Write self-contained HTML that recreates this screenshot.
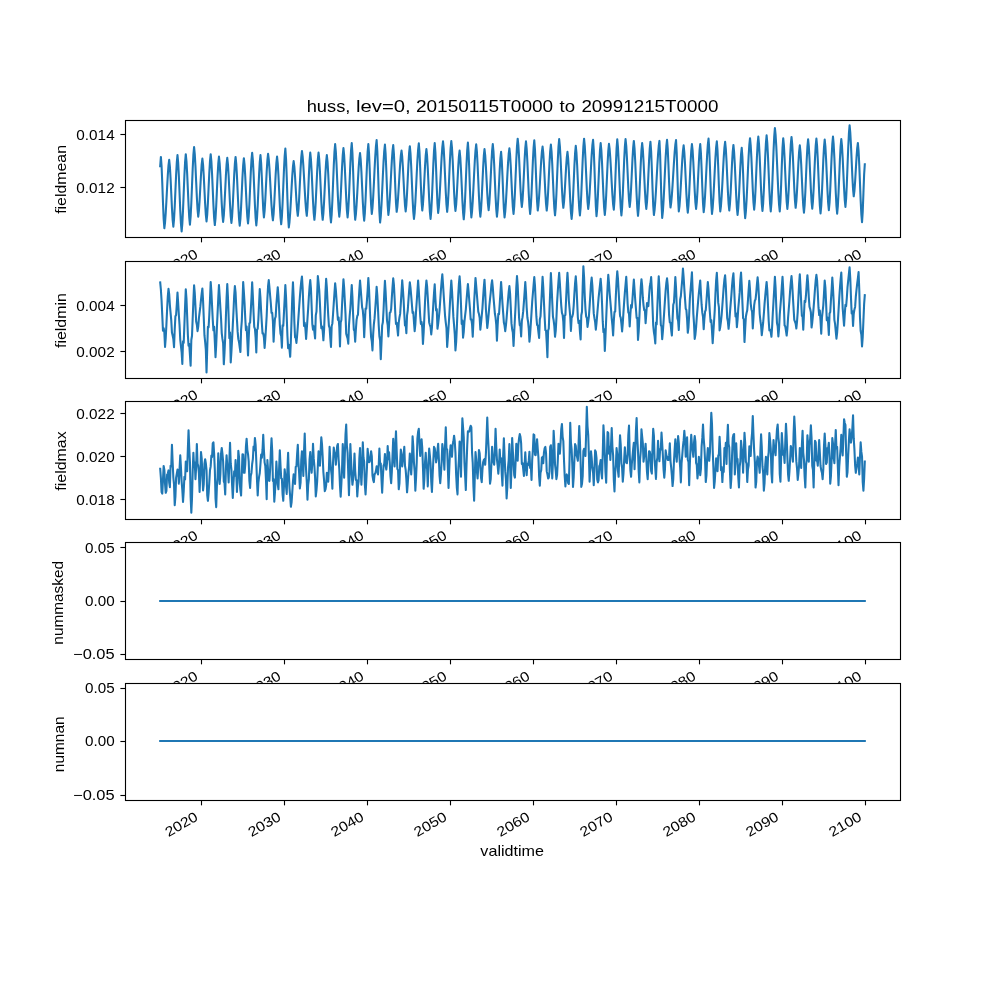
<!DOCTYPE html>
<html><head><meta charset="utf-8"><title>huss</title><style>html,body{margin:0;padding:0;background:#fff}body{width:1000px;height:1000px;overflow:hidden}</style></head><body>
<svg width="1000" height="1000" viewBox="0 0 1000 1000" style="display:block;will-change:transform;font-family:'Liberation Sans',sans-serif">
<rect width="1000" height="1000" fill="#fff"/>
<rect x="125.00" y="120.00" width="775.00" height="117.24" fill="#fff"/>
<path d="M160.20 166.20 L160.89 156.92 L161.58 166.34 L162.27 182.94 L162.97 202.26 L163.66 218.86 L164.35 228.28 L165.04 222.65 L165.73 213.05 L166.42 200.70 L167.11 187.38 L167.81 175.03 L168.50 165.43 L169.19 159.80 L169.88 166.61 L170.57 178.47 L171.26 193.24 L171.95 208.01 L172.65 219.87 L173.34 226.68 L174.03 219.38 L174.72 206.67 L175.41 190.84 L176.10 175.01 L176.80 162.30 L177.49 155.00 L178.18 162.79 L178.87 176.35 L179.56 193.24 L180.25 210.13 L180.94 223.69 L181.64 231.48 L182.33 223.61 L183.02 209.91 L183.71 192.84 L184.40 175.77 L185.09 162.07 L185.78 154.20 L186.48 161.37 L187.17 173.85 L187.86 189.40 L188.55 204.95 L189.24 217.43 L189.93 224.60 L190.62 216.69 L191.32 202.94 L192.01 185.80 L192.70 168.66 L193.39 154.91 L194.08 147.00 L194.77 154.09 L195.46 166.43 L196.16 181.80 L196.85 197.17 L197.54 209.51 L198.23 216.60 L198.92 210.68 L199.61 200.39 L200.30 187.56 L201.00 174.73 L201.69 164.44 L202.38 158.52 L203.07 164.93 L203.76 176.07 L204.45 189.96 L205.15 203.85 L205.84 214.99 L206.53 221.40 L207.22 214.55 L207.91 202.64 L208.60 187.80 L209.29 172.96 L209.99 161.05 L210.68 154.20 L211.37 161.42 L212.06 173.99 L212.75 189.64 L213.44 205.29 L214.13 217.86 L214.83 225.08 L215.52 218.10 L216.21 205.96 L216.90 190.84 L217.59 175.72 L218.28 163.58 L218.97 156.60 L219.67 163.25 L220.36 174.82 L221.05 189.24 L221.74 203.66 L222.43 215.23 L223.12 221.88 L223.81 215.36 L224.51 204.01 L225.20 189.88 L225.89 175.75 L226.58 164.40 L227.27 157.88 L227.96 164.51 L228.65 176.06 L229.35 190.44 L230.04 204.82 L230.73 216.37 L231.42 223.00 L232.11 216.27 L232.80 204.55 L233.49 189.96 L234.19 175.37 L234.88 163.65 L235.57 156.92 L236.26 163.93 L236.95 176.13 L237.64 191.32 L238.34 206.51 L239.03 218.71 L239.72 225.72 L240.41 218.84 L241.10 206.87 L241.79 191.96 L242.48 177.05 L243.18 165.08 L243.87 158.20 L244.56 164.85 L245.25 176.42 L245.94 190.84 L246.63 205.26 L247.32 216.83 L248.02 223.48 L248.71 216.28 L249.40 203.74 L250.09 188.12 L250.78 172.50 L251.47 159.96 L252.16 152.76 L252.86 160.16 L253.55 173.04 L254.24 189.08 L254.93 205.12 L255.62 218.00 L256.31 225.40 L257.00 218.23 L257.70 205.75 L258.39 190.20 L259.08 174.65 L259.77 162.17 L260.46 155.00 L261.15 163.24 L261.84 177.75 L262.54 194.65 L263.23 209.16 L263.92 217.40 L264.61 210.93 L265.30 199.67 L265.99 185.64 L266.69 171.61 L267.38 160.35 L268.07 153.88 L268.76 159.34 L269.45 168.65 L270.14 180.62 L270.83 193.54 L271.53 205.51 L272.22 214.82 L272.91 220.28 L273.60 213.79 L274.29 202.50 L274.98 188.44 L275.67 174.38 L276.37 163.09 L277.06 156.60 L277.75 163.49 L278.44 175.49 L279.13 190.44 L279.82 205.39 L280.51 217.39 L281.21 224.28 L281.90 216.57 L282.59 203.15 L283.28 186.44 L283.97 169.73 L284.66 156.31 L285.35 148.60 L286.05 159.02 L286.74 177.36 L287.43 198.72 L288.12 217.06 L288.81 227.48 L289.50 222.02 L290.19 212.71 L290.89 200.74 L291.58 187.82 L292.27 175.85 L292.96 166.54 L293.65 161.08 L294.34 166.65 L295.04 176.36 L295.73 188.44 L296.42 200.52 L297.11 210.23 L297.80 215.80 L298.49 209.20 L299.18 197.71 L299.88 183.40 L300.57 169.09 L301.26 157.60 L301.95 151.00 L302.64 156.33 L303.33 165.41 L304.02 177.09 L304.72 189.71 L305.41 201.39 L306.10 210.47 L306.79 215.80 L307.48 207.45 L308.17 192.76 L308.86 175.64 L309.56 160.95 L310.25 152.60 L310.94 159.45 L311.63 171.36 L312.32 186.20 L313.01 201.04 L313.70 212.95 L314.40 219.80 L315.09 212.95 L315.78 201.04 L316.47 186.20 L317.16 171.36 L317.85 159.45 L318.54 152.60 L319.24 159.45 L319.93 171.36 L320.62 186.20 L321.31 201.04 L322.00 212.95 L322.69 219.80 L323.39 213.20 L324.08 201.71 L324.77 187.40 L325.46 173.09 L326.15 161.60 L326.84 155.00 L327.53 161.88 L328.23 173.85 L328.92 188.76 L329.61 203.67 L330.30 215.64 L330.99 222.52 L331.68 214.53 L332.37 200.63 L333.07 183.32 L333.76 166.01 L334.45 152.11 L335.14 144.12 L335.83 151.50 L336.52 164.35 L337.21 180.36 L337.91 196.37 L338.60 209.22 L339.29 216.60 L339.98 209.62 L340.67 197.48 L341.36 182.36 L342.05 167.24 L342.75 155.10 L343.44 148.12 L344.13 155.18 L344.82 167.46 L345.51 182.76 L346.20 198.06 L346.89 210.34 L347.59 217.40 L348.28 209.82 L348.97 196.63 L349.66 180.20 L350.35 163.77 L351.04 150.58 L351.74 143.00 L352.43 153.14 L353.12 171.00 L353.81 191.80 L354.50 209.66 L355.19 219.80 L355.88 214.32 L356.58 204.96 L357.27 192.93 L357.96 179.95 L358.65 167.92 L359.34 158.56 L360.03 153.08 L360.72 159.96 L361.42 171.93 L362.11 186.84 L362.80 201.75 L363.49 213.72 L364.18 220.60 L364.87 212.81 L365.56 199.25 L366.26 182.36 L366.95 165.47 L367.64 151.91 L368.33 144.12 L369.02 153.33 L369.71 169.55 L370.40 188.45 L371.10 204.67 L371.79 213.88 L372.48 207.82 L373.17 197.48 L373.86 184.18 L374.55 169.82 L375.24 156.52 L375.94 146.18 L376.63 140.12 L377.32 151.00 L378.01 170.16 L378.70 192.48 L379.39 211.64 L380.08 222.52 L380.78 216.12 L381.47 205.19 L382.16 191.14 L382.85 175.98 L383.54 161.93 L384.23 151.00 L384.93 144.60 L385.62 153.90 L386.31 170.27 L387.00 189.33 L387.69 205.70 L388.38 215.00 L389.07 209.25 L389.77 199.45 L390.46 186.84 L391.15 173.24 L391.84 160.63 L392.53 150.83 L393.22 145.08 L393.91 153.89 L394.61 169.40 L395.30 187.48 L395.99 202.99 L396.68 211.80 L397.37 206.76 L398.06 198.17 L398.75 187.12 L399.45 175.20 L400.14 164.15 L400.83 155.56 L401.52 150.52 L402.21 156.73 L402.90 167.54 L403.59 181.00 L404.29 194.46 L404.98 205.27 L405.67 211.48 L406.36 204.83 L407.05 193.26 L407.74 178.84 L408.43 164.42 L409.13 152.85 L409.82 146.20 L410.51 153.62 L411.20 166.52 L411.89 182.60 L412.58 198.68 L413.28 211.58 L413.97 219.00 L414.66 212.78 L415.35 202.17 L416.04 188.53 L416.73 173.79 L417.42 160.15 L418.12 149.54 L418.81 143.32 L419.50 152.20 L420.19 167.82 L420.88 186.02 L421.57 201.64 L422.26 210.52 L422.96 204.26 L423.65 193.37 L424.34 179.80 L425.03 166.23 L425.72 155.34 L426.41 149.08 L427.10 156.20 L427.80 168.60 L428.49 184.04 L429.18 199.48 L429.87 211.88 L430.56 219.00 L431.25 211.26 L431.94 197.78 L432.64 181.00 L433.33 164.22 L434.02 150.74 L434.71 143.00 L435.40 152.23 L436.09 168.49 L436.78 187.43 L437.48 203.69 L438.17 212.92 L438.86 207.04 L439.55 197.02 L440.24 184.12 L440.93 170.20 L441.63 157.30 L442.32 147.28 L443.01 141.40 L443.70 148.57 L444.39 161.05 L445.08 176.60 L445.77 192.15 L446.47 204.63 L447.16 211.80 L447.85 204.60 L448.54 192.06 L449.23 176.44 L449.92 160.82 L450.61 148.28 L451.31 141.08 L452.00 148.20 L452.69 160.60 L453.38 176.04 L454.07 191.48 L454.76 203.88 L455.45 211.00 L456.15 204.84 L456.84 194.12 L457.53 180.76 L458.22 167.40 L458.91 156.68 L459.60 150.52 L460.29 157.53 L460.99 169.73 L461.68 184.92 L462.37 200.11 L463.06 212.31 L463.75 219.32 L464.44 211.50 L465.13 197.88 L465.83 180.92 L466.52 163.96 L467.21 150.34 L467.90 142.52 L468.59 152.41 L469.28 169.82 L469.98 190.10 L470.67 207.51 L471.36 217.40 L472.05 211.39 L472.74 201.14 L473.43 187.96 L474.12 173.72 L474.82 160.54 L475.51 150.29 L476.20 144.28 L476.89 151.65 L477.58 164.47 L478.27 180.44 L478.96 196.41 L479.66 209.23 L480.35 216.60 L481.04 209.72 L481.73 197.75 L482.42 182.84 L483.11 167.93 L483.80 155.96 L484.50 149.08 L485.19 155.31 L485.88 166.14 L486.57 179.64 L487.26 193.14 L487.95 203.97 L488.64 210.20 L489.34 203.47 L490.03 191.75 L490.72 177.16 L491.41 162.57 L492.10 150.85 L492.79 144.12 L493.48 151.50 L494.18 164.35 L494.87 180.36 L495.56 196.37 L496.25 209.22 L496.94 216.60 L497.63 210.00 L498.33 198.51 L499.02 184.20 L499.71 169.89 L500.40 158.40 L501.09 151.80 L501.78 160.46 L502.47 175.72 L503.17 193.48 L503.86 208.74 L504.55 217.40 L505.24 211.72 L505.93 202.03 L506.62 189.57 L507.31 176.11 L508.01 163.65 L508.70 153.96 L509.39 148.28 L510.08 154.96 L510.77 166.59 L511.46 181.08 L512.15 195.57 L512.85 207.20 L513.54 213.88 L514.23 206.22 L514.92 192.89 L515.61 176.28 L516.30 159.67 L516.99 146.34 L517.69 138.68 L518.38 145.64 L519.07 157.75 L519.76 172.84 L520.45 187.93 L521.14 200.04 L521.83 207.00 L522.53 200.32 L523.22 188.69 L523.91 174.20 L524.60 159.71 L525.29 148.08 L525.98 141.40 L526.67 148.78 L527.37 161.63 L528.06 177.64 L528.75 193.65 L529.44 206.50 L530.13 213.88 L530.82 206.38 L531.52 193.33 L532.21 177.08 L532.90 160.83 L533.59 147.78 L534.28 140.28 L534.97 149.56 L535.66 165.89 L536.36 184.91 L537.05 201.24 L537.74 210.52 L538.43 205.26 L539.12 196.29 L539.81 184.75 L540.50 172.29 L541.20 160.75 L541.89 151.78 L542.58 146.52 L543.27 153.04 L543.96 164.39 L544.65 178.52 L545.34 192.65 L546.04 204.00 L546.73 210.52 L547.42 203.80 L548.11 192.12 L548.80 177.56 L549.49 163.00 L550.18 151.32 L550.88 144.60 L551.57 151.80 L552.26 164.34 L552.95 179.96 L553.64 195.58 L554.33 208.12 L555.02 215.32 L555.72 207.54 L556.41 194.01 L557.10 177.16 L557.79 160.31 L558.48 146.78 L559.17 139.00 L559.87 146.01 L560.56 158.21 L561.25 173.40 L561.94 188.59 L562.63 200.79 L563.32 207.80 L564.01 202.09 L564.71 192.17 L565.40 179.80 L566.09 167.43 L566.78 157.51 L567.47 151.80 L568.16 158.65 L568.85 170.56 L569.55 185.40 L570.24 200.24 L570.93 212.15 L571.62 219.00 L572.31 211.55 L573.00 198.59 L573.69 182.44 L574.39 166.29 L575.08 153.33 L575.77 145.88 L576.46 152.97 L577.15 165.31 L577.84 180.68 L578.53 196.05 L579.23 208.39 L579.92 215.48 L580.61 207.66 L581.30 194.04 L581.99 177.08 L582.68 160.12 L583.37 146.50 L584.07 138.68 L584.76 145.84 L585.45 158.29 L586.14 173.80 L586.83 189.31 L587.52 201.76 L588.22 208.92 L588.91 203.24 L589.60 193.55 L590.29 181.09 L590.98 167.63 L591.67 155.17 L592.36 145.48 L593.06 139.80 L593.75 149.88 L594.44 167.62 L595.13 188.30 L595.82 206.04 L596.51 216.12 L597.20 208.67 L597.90 195.71 L598.59 179.56 L599.28 163.41 L599.97 150.45 L600.66 143.00 L601.35 150.34 L602.04 163.10 L602.74 179.00 L603.43 194.90 L604.12 207.66 L604.81 215.00 L605.50 207.75 L606.19 195.12 L606.88 179.40 L607.58 163.68 L608.27 151.05 L608.96 143.80 L609.65 149.22 L610.34 158.46 L611.03 170.34 L611.72 183.18 L612.42 195.06 L613.11 204.30 L613.80 209.72 L614.49 200.42 L615.18 184.05 L615.87 164.99 L616.57 148.62 L617.26 139.32 L617.95 147.08 L618.64 160.58 L619.33 177.40 L620.02 194.22 L620.71 207.72 L621.41 215.48 L622.10 207.69 L622.79 194.13 L623.48 177.24 L624.17 160.35 L624.86 146.79 L625.55 139.00 L626.25 145.93 L626.94 157.98 L627.63 173.00 L628.32 188.02 L629.01 200.07 L629.70 207.00 L630.39 200.27 L631.09 188.55 L631.78 173.96 L632.47 159.37 L633.16 147.65 L633.85 140.92 L634.54 148.55 L635.23 161.82 L635.93 178.36 L636.62 194.90 L637.31 208.17 L638.00 215.80 L638.69 208.38 L639.38 195.48 L640.07 179.40 L640.77 163.32 L641.46 150.42 L642.15 143.00 L642.84 149.72 L643.53 161.40 L644.22 175.96 L644.92 190.52 L645.61 202.20 L646.30 208.92 L646.99 202.07 L647.68 190.16 L648.37 175.32 L649.06 160.48 L649.76 148.57 L650.45 141.72 L651.14 151.40 L651.83 168.44 L652.52 188.28 L653.21 205.32 L653.90 215.00 L654.60 209.93 L655.29 201.47 L655.98 190.41 L656.67 177.96 L657.36 165.51 L658.05 154.45 L658.74 145.99 L659.44 140.92 L660.13 154.98 L660.82 179.40 L661.51 203.82 L662.20 217.88 L662.89 211.46 L663.58 200.52 L664.28 186.44 L664.97 171.24 L665.66 157.16 L666.35 146.22 L667.04 139.80 L667.73 148.74 L668.42 164.47 L669.12 182.81 L669.81 198.54 L670.50 207.48 L671.19 202.87 L671.88 195.17 L672.57 185.12 L673.26 173.80 L673.96 162.48 L674.65 152.43 L675.34 144.73 L676.03 140.12 L676.72 153.16 L677.41 175.80 L678.11 198.44 L678.80 211.48 L679.49 206.05 L680.18 196.79 L680.87 184.87 L681.56 172.01 L682.25 160.09 L682.95 150.83 L683.64 145.40 L684.33 152.25 L685.02 164.16 L685.71 179.00 L686.40 193.84 L687.09 205.75 L687.79 212.60 L688.48 205.62 L689.17 193.48 L689.86 178.36 L690.55 163.24 L691.24 151.10 L691.93 144.12 L692.63 150.72 L693.32 162.21 L694.01 176.52 L694.70 190.83 L695.39 202.32 L696.08 208.92 L696.77 202.32 L697.47 190.83 L698.16 176.52 L698.85 162.21 L699.54 150.72 L700.23 144.12 L700.92 153.10 L701.61 168.91 L702.31 187.33 L703.00 203.14 L703.69 212.12 L704.38 206.07 L705.07 195.75 L705.76 182.48 L706.46 168.16 L707.15 154.89 L707.84 144.57 L708.53 138.52 L709.22 148.47 L709.91 165.99 L710.60 186.41 L711.30 203.93 L711.99 213.88 L712.68 207.92 L713.37 197.76 L714.06 184.69 L714.75 170.59 L715.44 157.52 L716.14 147.36 L716.83 141.40 L717.52 150.66 L718.21 166.95 L718.90 185.93 L719.59 202.22 L720.28 211.48 L720.98 205.76 L721.67 196.00 L722.36 183.45 L723.05 169.91 L723.74 157.36 L724.43 147.60 L725.12 141.88 L725.82 148.87 L726.51 161.04 L727.20 176.20 L727.89 191.36 L728.58 203.53 L729.27 210.52 L729.96 203.84 L730.66 192.21 L731.35 177.72 L732.04 163.23 L732.73 151.60 L733.42 144.92 L734.11 152.06 L734.81 164.48 L735.50 179.96 L736.19 195.44 L736.88 207.86 L737.57 215.00 L738.26 208.15 L738.95 196.24 L739.65 181.40 L740.34 166.56 L741.03 154.65 L741.72 147.80 L742.41 157.10 L743.10 173.47 L743.79 192.53 L744.49 208.90 L745.18 218.20 L745.87 211.63 L746.56 200.41 L747.25 185.99 L747.94 170.41 L748.63 155.99 L749.33 144.77 L750.02 138.20 L750.71 145.49 L751.40 158.17 L752.09 173.96 L752.78 189.75 L753.47 202.43 L754.17 209.72 L754.86 202.27 L755.55 189.31 L756.24 173.16 L756.93 157.01 L757.62 144.05 L758.31 136.60 L759.01 144.18 L759.70 157.37 L760.39 173.80 L761.08 190.23 L761.77 203.42 L762.46 211.00 L763.16 203.29 L763.85 189.87 L764.54 173.16 L765.23 156.45 L765.92 143.03 L766.61 135.32 L767.30 143.08 L768.00 156.58 L768.69 173.40 L769.38 190.22 L770.07 203.72 L770.76 211.48 L771.45 202.99 L772.14 188.21 L772.84 169.80 L773.53 151.39 L774.22 136.61 L774.91 128.12 L775.60 134.97 L776.29 146.66 L776.98 161.69 L777.68 177.91 L778.37 192.94 L779.06 204.63 L779.75 211.48 L780.44 201.80 L781.13 184.76 L781.82 164.92 L782.52 147.88 L783.21 138.20 L783.90 145.40 L784.59 157.94 L785.28 173.56 L785.97 189.18 L786.66 201.72 L787.36 208.92 L788.05 201.58 L788.74 188.82 L789.43 172.92 L790.12 157.02 L790.81 144.26 L791.51 136.92 L792.20 144.14 L792.89 156.71 L793.58 172.36 L794.27 188.01 L794.96 200.58 L795.65 207.80 L796.35 201.44 L797.04 190.38 L797.73 176.60 L798.42 162.82 L799.11 151.76 L799.80 145.40 L800.49 152.25 L801.19 164.16 L801.88 179.00 L802.57 193.84 L803.26 205.75 L803.95 212.60 L804.64 205.13 L805.33 192.14 L806.03 175.96 L806.72 159.78 L807.41 146.79 L808.10 139.32 L808.79 146.38 L809.48 158.66 L810.17 173.96 L810.87 189.26 L811.56 201.54 L812.25 208.60 L812.94 201.46 L813.63 189.04 L814.32 173.56 L815.01 158.08 L815.71 145.66 L816.40 138.52 L817.09 146.15 L817.78 159.42 L818.47 175.96 L819.16 192.50 L819.85 205.77 L820.55 213.40 L821.24 205.87 L821.93 192.76 L822.62 176.44 L823.31 160.12 L824.00 147.01 L824.70 139.48 L825.39 146.68 L826.08 159.22 L826.77 174.84 L827.46 190.46 L828.15 203.00 L828.84 210.20 L829.54 202.70 L830.23 189.65 L830.92 173.40 L831.61 157.15 L832.30 144.10 L832.99 136.60 L833.68 144.46 L834.38 158.13 L835.07 175.16 L835.76 192.19 L836.45 205.86 L837.14 213.72 L837.83 206.11 L838.52 192.86 L839.22 176.36 L839.91 159.86 L840.60 146.61 L841.29 139.00 L841.98 145.93 L842.67 157.98 L843.36 173.00 L844.06 188.02 L844.75 200.07 L845.44 207.00 L846.13 198.69 L846.82 184.22 L847.51 166.20 L848.20 148.18 L848.90 133.71 L849.59 125.40 L850.28 132.62 L850.97 145.19 L851.66 160.84 L852.35 176.49 L853.05 189.06 L853.74 196.28 L854.43 190.85 L855.12 181.41 L855.81 169.64 L856.50 157.87 L857.19 148.43 L857.89 143.00 L858.58 151.07 L859.27 165.11 L859.96 182.60 L860.65 200.09 L861.34 214.13 L862.03 222.20 L862.73 211.62 L863.42 193.24 L864.11 174.86 L864.80 164.28" fill="none" stroke="#1f77b4" stroke-width="2.08" stroke-linejoin="round" stroke-linecap="square"/>
<rect x="125.5" y="120.5" width="775.0" height="117.0" fill="none" stroke="#000" stroke-width="1.11"/>
<path d="M201.5 237.5 v4.86" stroke="#000" stroke-width="1.11"/>
<path d="M284.5 237.5 v4.86" stroke="#000" stroke-width="1.11"/>
<path d="M367.5 237.5 v4.86" stroke="#000" stroke-width="1.11"/>
<path d="M450.5 237.5 v4.86" stroke="#000" stroke-width="1.11"/>
<path d="M533.5 237.5 v4.86" stroke="#000" stroke-width="1.11"/>
<path d="M616.5 237.5 v4.86" stroke="#000" stroke-width="1.11"/>
<path d="M699.5 237.5 v4.86" stroke="#000" stroke-width="1.11"/>
<path d="M782.5 237.5 v4.86" stroke="#000" stroke-width="1.11"/>
<path d="M865.5 237.5 v4.86" stroke="#000" stroke-width="1.11"/>
<path d="M125.5 134.5 h-5.1" stroke="#000" stroke-width="1.11"/>
<text x="114.65" y="139.60" text-anchor="end" font-size="13.9" textLength="38.3" lengthAdjust="spacingAndGlyphs">0.014</text>
<path d="M125.5 187.5 h-5.1" stroke="#000" stroke-width="1.11"/>
<text x="114.65" y="192.60" text-anchor="end" font-size="13.9" textLength="38.3" lengthAdjust="spacingAndGlyphs">0.012</text>
<text transform="translate(65.90 179.42) rotate(-90)" text-anchor="middle" font-size="13.9" textLength="68.8" lengthAdjust="spacingAndGlyphs">fieldmean</text>
<text transform="translate(198.99 256.74) rotate(-30)" text-anchor="end" font-size="13.9" textLength="35.3" lengthAdjust="spacingAndGlyphs">2020</text><text transform="translate(281.95 256.74) rotate(-30)" text-anchor="end" font-size="13.9" textLength="35.3" lengthAdjust="spacingAndGlyphs">2030</text><text transform="translate(364.92 256.74) rotate(-30)" text-anchor="end" font-size="13.9" textLength="35.3" lengthAdjust="spacingAndGlyphs">2040</text><text transform="translate(447.89 256.74) rotate(-30)" text-anchor="end" font-size="13.9" textLength="35.3" lengthAdjust="spacingAndGlyphs">2050</text><text transform="translate(530.86 256.74) rotate(-30)" text-anchor="end" font-size="13.9" textLength="35.3" lengthAdjust="spacingAndGlyphs">2060</text><text transform="translate(613.83 256.74) rotate(-30)" text-anchor="end" font-size="13.9" textLength="35.3" lengthAdjust="spacingAndGlyphs">2070</text><text transform="translate(696.79 256.74) rotate(-30)" text-anchor="end" font-size="13.9" textLength="35.3" lengthAdjust="spacingAndGlyphs">2080</text><text transform="translate(779.76 256.74) rotate(-30)" text-anchor="end" font-size="13.9" textLength="35.3" lengthAdjust="spacingAndGlyphs">2090</text><text transform="translate(862.73 256.74) rotate(-30)" text-anchor="end" font-size="13.9" textLength="35.3" lengthAdjust="spacingAndGlyphs">2100</text>
<rect x="125.00" y="260.69" width="775.00" height="117.24" fill="#fff"/>
<path d="M160.20 282.40 L160.89 289.75 L161.58 300.90 L162.27 315.41 L162.97 330.60 L163.66 328.27 L164.35 332.33 L165.04 346.88 L165.73 337.90 L166.42 324.45 L167.11 309.49 L167.81 296.29 L168.50 288.80 L169.19 294.21 L169.88 305.09 L170.57 312.94 L171.26 320.42 L171.95 332.61 L172.65 335.57 L173.34 339.15 L174.03 347.20 L174.72 329.52 L175.41 316.27 L176.10 314.91 L176.80 304.40 L177.49 292.48 L178.18 303.23 L178.87 315.26 L179.56 325.43 L180.25 339.56 L180.94 346.06 L181.64 352.26 L182.33 364.00 L183.02 341.21 L183.71 342.85 L184.40 324.65 L185.09 306.17 L185.78 289.28 L186.48 298.93 L187.17 316.24 L187.86 334.83 L188.55 345.71 L189.24 344.07 L189.93 354.89 L190.62 365.60 L191.32 340.02 L192.01 335.76 L192.70 317.96 L193.39 300.88 L194.08 285.28 L194.77 293.20 L195.46 306.67 L196.16 321.53 L196.85 324.76 L197.54 331.20 L198.23 326.69 L198.92 318.16 L199.61 312.41 L200.30 306.90 L201.00 299.88 L201.69 293.59 L202.38 288.48 L203.07 300.89 L203.76 317.79 L204.45 335.22 L205.15 341.90 L205.84 349.88 L206.53 372.48 L207.22 349.05 L207.91 326.84 L208.60 327.25 L209.29 315.42 L209.99 299.82 L210.68 281.92 L211.37 291.52 L212.06 305.76 L212.75 319.89 L213.44 330.32 L214.13 326.82 L214.83 341.72 L215.52 357.12 L216.21 345.00 L216.90 327.99 L217.59 312.80 L218.28 298.24 L218.97 285.12 L219.67 295.98 L220.36 307.85 L221.05 318.54 L221.74 333.11 L222.43 338.93 L223.12 343.18 L223.81 364.32 L224.51 352.79 L225.20 337.51 L225.89 317.25 L226.58 298.05 L227.27 284.00 L227.96 297.57 L228.65 317.53 L229.35 338.26 L230.04 332.65 L230.73 362.40 L231.42 351.56 L232.11 338.79 L232.80 325.12 L233.49 311.20 L234.19 295.53 L234.88 286.08 L235.57 292.56 L236.26 307.52 L236.95 319.76 L237.64 331.68 L238.34 339.14 L239.03 342.22 L239.72 347.34 L240.41 352.00 L241.10 329.88 L241.79 321.15 L242.48 302.83 L243.18 282.08 L243.87 291.96 L244.56 303.41 L245.25 318.22 L245.94 330.11 L246.63 326.64 L247.32 340.42 L248.02 355.52 L248.71 338.15 L249.40 323.32 L250.09 322.79 L250.78 310.90 L251.47 297.71 L252.16 282.40 L252.86 296.27 L253.55 312.45 L254.24 326.96 L254.93 328.77 L255.62 337.72 L256.31 352.48 L257.00 329.62 L257.70 328.88 L258.39 318.97 L259.08 304.11 L259.77 289.12 L260.46 298.18 L261.15 311.82 L261.84 323.10 L262.54 333.44 L263.23 333.36 L263.92 337.54 L264.61 348.00 L265.30 338.81 L265.99 327.84 L266.69 315.69 L267.38 299.06 L268.07 286.23 L268.76 280.00 L269.45 287.52 L270.14 295.77 L270.83 303.52 L271.53 312.81 L272.22 312.81 L272.91 321.50 L273.60 341.60 L274.29 328.23 L274.98 318.52 L275.67 316.70 L276.37 304.33 L277.06 295.81 L277.75 287.20 L278.44 296.07 L279.13 309.32 L279.82 324.87 L280.51 333.78 L281.21 336.04 L281.90 347.68 L282.59 325.29 L283.28 325.84 L283.97 312.58 L284.66 299.15 L285.35 285.12 L286.05 296.96 L286.74 316.87 L287.43 336.07 L288.12 348.22 L288.81 344.67 L289.50 349.62 L290.19 356.80 L290.89 340.20 L291.58 318.75 L292.27 297.12 L292.96 282.40 L293.65 297.59 L294.34 321.61 L295.04 337.24 L295.73 337.87 L296.42 342.88 L297.11 335.55 L297.80 326.65 L298.49 316.75 L299.18 306.72 L299.88 297.14 L300.57 288.44 L301.26 281.45 L301.95 276.48 L302.64 287.85 L303.33 306.83 L304.02 325.99 L304.72 322.87 L305.41 328.95 L306.10 338.88 L306.79 328.93 L307.48 318.72 L308.17 308.63 L308.86 296.75 L309.56 286.81 L310.25 280.00 L310.94 288.65 L311.63 306.12 L312.32 324.24 L313.01 329.59 L313.70 326.23 L314.40 332.02 L315.09 338.40 L315.78 315.36 L316.47 311.59 L317.16 294.25 L317.85 276.00 L318.54 282.34 L319.24 290.24 L319.93 303.72 L320.62 318.47 L321.31 328.15 L322.00 326.53 L322.69 331.04 L323.39 340.32 L324.08 329.85 L324.77 312.50 L325.46 292.24 L326.15 278.72 L326.84 287.48 L327.53 302.09 L328.23 315.41 L328.92 325.88 L329.61 327.91 L330.30 338.16 L330.99 346.88 L331.68 326.07 L332.37 323.42 L333.07 313.73 L333.76 303.30 L334.45 293.36 L335.14 283.20 L335.83 289.74 L336.52 299.79 L337.21 310.71 L337.91 319.83 L338.60 317.44 L339.29 326.82 L339.98 346.40 L340.67 322.57 L341.36 319.98 L342.05 305.05 L342.75 291.56 L343.44 279.20 L344.13 287.51 L344.82 301.04 L345.51 314.14 L346.20 333.61 L346.89 336.14 L347.59 338.44 L348.28 343.68 L348.97 325.59 L349.66 315.95 L350.35 308.34 L351.04 296.70 L351.74 285.12 L352.43 297.18 L353.12 314.99 L353.81 329.75 L354.50 330.92 L355.19 341.60 L355.88 329.35 L356.58 319.94 L357.27 316.07 L357.96 314.85 L358.65 301.98 L359.34 290.19 L360.03 280.48 L360.72 289.17 L361.42 298.48 L362.11 307.30 L362.80 310.31 L363.49 318.41 L364.18 337.12 L364.87 322.10 L365.56 308.52 L366.26 308.69 L366.95 300.41 L367.64 290.61 L368.33 277.92 L369.02 288.88 L369.71 306.34 L370.40 324.39 L371.10 337.16 L371.79 341.25 L372.48 350.40 L373.17 334.14 L373.86 324.26 L374.55 318.42 L375.24 308.87 L375.94 298.68 L376.63 286.72 L377.32 295.38 L378.01 309.29 L378.70 324.97 L379.39 336.21 L380.08 340.24 L380.78 359.20 L381.47 343.00 L382.16 325.60 L382.85 322.32 L383.54 310.23 L384.23 294.41 L384.93 280.80 L385.62 291.83 L386.31 306.01 L387.00 320.68 L387.69 325.02 L388.38 336.48 L389.07 325.17 L389.77 312.79 L390.46 312.25 L391.15 308.97 L391.84 297.39 L392.53 286.95 L393.22 278.40 L393.91 284.88 L394.61 298.53 L395.30 313.75 L395.99 324.03 L396.68 322.83 L397.37 328.88 L398.06 335.52 L398.75 322.72 L399.45 317.44 L400.14 313.92 L400.83 303.40 L401.52 291.88 L402.21 280.32 L402.90 289.17 L403.59 299.88 L404.29 313.96 L404.98 325.41 L405.67 323.84 L406.36 333.28 L407.05 315.30 L407.74 310.50 L408.43 300.36 L409.13 290.85 L409.82 282.40 L410.51 287.77 L411.20 295.95 L411.89 304.43 L412.58 312.87 L413.28 312.05 L413.97 322.11 L414.66 331.20 L415.35 324.36 L416.04 311.52 L416.73 301.49 L417.42 291.07 L418.12 280.48 L418.81 290.75 L419.50 303.55 L420.19 315.54 L420.88 323.89 L421.57 321.91 L422.26 327.60 L422.96 344.00 L423.65 332.33 L424.34 317.38 L425.03 301.76 L425.72 288.75 L426.41 280.48 L427.10 286.31 L427.80 297.68 L428.49 310.32 L429.18 322.43 L429.87 324.99 L430.56 327.33 L431.25 334.40 L431.94 327.42 L432.64 315.26 L433.33 303.89 L434.02 293.14 L434.71 284.32 L435.40 298.47 L436.09 310.35 L436.78 309.22 L437.48 328.80 L438.17 323.76 L438.86 317.61 L439.55 310.35 L440.24 300.22 L440.93 290.03 L441.63 281.30 L442.32 274.40 L443.01 284.05 L443.70 295.32 L444.39 305.75 L445.08 316.22 L445.77 322.63 L446.47 328.22 L447.16 346.88 L447.85 337.62 L448.54 327.54 L449.23 316.69 L449.92 303.74 L450.61 291.26 L451.31 280.48 L452.00 290.69 L452.69 303.67 L453.38 316.91 L454.07 325.27 L454.76 334.21 L455.45 350.40 L456.15 342.13 L456.84 327.72 L457.53 310.06 L458.22 295.50 L458.91 283.85 L459.60 276.32 L460.29 286.66 L460.99 304.62 L461.68 323.85 L462.37 320.61 L463.06 337.60 L463.75 331.84 L464.44 321.61 L465.13 315.35 L465.83 309.30 L466.52 300.38 L467.21 291.74 L467.90 284.00 L468.59 291.51 L469.28 300.54 L469.98 308.73 L470.67 319.38 L471.36 319.30 L472.05 324.37 L472.74 336.80 L473.43 321.50 L474.12 302.50 L474.82 290.15 L475.51 277.92 L476.20 285.87 L476.89 294.65 L477.58 303.29 L478.27 311.64 L478.96 314.01 L479.66 317.90 L480.35 329.60 L481.04 322.94 L481.73 315.95 L482.42 308.36 L483.11 297.68 L483.80 287.64 L484.50 279.68 L485.19 291.69 L485.88 308.78 L486.57 318.05 L487.26 328.00 L487.95 322.07 L488.64 314.41 L489.34 305.80 L490.03 299.15 L490.72 292.76 L491.41 285.02 L492.10 280.32 L492.79 287.23 L493.48 297.02 L494.18 305.19 L494.87 313.52 L495.56 317.68 L496.25 324.55 L496.94 340.80 L497.63 325.80 L498.33 313.75 L499.02 314.39 L499.71 304.03 L500.40 293.30 L501.09 281.92 L501.78 292.17 L502.47 303.36 L503.17 312.95 L503.86 322.47 L504.55 325.51 L505.24 331.20 L505.93 325.49 L506.62 317.81 L507.31 308.96 L508.01 299.86 L508.70 291.92 L509.39 286.08 L510.08 293.55 L510.77 307.51 L511.46 323.15 L512.15 329.25 L512.85 332.60 L513.54 345.92 L514.23 331.94 L514.92 318.54 L515.61 305.29 L516.30 286.98 L516.99 276.00 L517.69 285.41 L518.38 301.23 L519.07 317.62 L519.76 325.15 L520.45 326.12 L521.14 336.48 L521.83 320.84 L522.53 317.16 L523.22 311.14 L523.91 302.13 L524.60 292.21 L525.29 282.08 L525.98 292.57 L526.67 307.37 L527.37 317.54 L528.06 321.77 L528.75 328.71 L529.44 341.60 L530.13 334.38 L530.82 323.72 L531.52 312.68 L532.21 301.55 L532.90 293.22 L533.59 285.11 L534.28 277.12 L534.97 285.65 L535.66 301.00 L536.36 316.45 L537.05 324.88 L537.74 325.55 L538.43 332.18 L539.12 337.92 L539.81 319.49 L540.50 316.37 L541.20 303.81 L541.89 290.83 L542.58 276.80 L543.27 287.24 L543.96 302.21 L544.65 317.19 L545.34 330.17 L546.04 330.68 L546.73 342.95 L547.42 357.12 L548.11 330.65 L548.80 328.54 L549.49 309.91 L550.18 291.36 L550.88 273.12 L551.57 286.03 L552.26 302.07 L552.95 316.76 L553.64 320.31 L554.33 326.13 L555.02 336.80 L555.72 330.90 L556.41 318.47 L557.10 302.40 L557.79 291.22 L558.48 281.21 L559.17 272.80 L559.87 282.95 L560.56 294.72 L561.25 305.60 L561.94 312.80 L562.63 314.80 L563.32 321.87 L564.01 338.08 L564.71 315.64 L565.40 314.92 L566.09 299.24 L566.78 284.66 L567.47 272.80 L568.16 284.34 L568.85 300.73 L569.55 308.53 L570.24 316.63 L570.93 330.88 L571.62 317.91 L572.31 316.45 L573.00 313.73 L573.69 305.76 L574.39 293.56 L575.08 283.34 L575.77 276.32 L576.46 286.03 L577.15 301.88 L577.84 317.29 L578.53 323.04 L579.23 320.67 L579.92 331.55 L580.61 339.52 L581.30 315.30 L581.99 311.74 L582.68 287.40 L583.37 266.40 L584.07 277.16 L584.76 295.93 L585.45 309.05 L586.14 316.47 L586.83 317.95 L587.52 326.88 L588.22 321.82 L588.91 316.34 L589.60 306.35 L590.29 295.26 L590.98 283.83 L591.67 277.60 L592.36 285.57 L593.06 299.53 L593.75 313.39 L594.44 318.14 L595.13 322.08 L595.82 329.60 L596.51 323.22 L597.20 314.67 L597.90 306.24 L598.59 297.95 L599.28 291.43 L599.97 285.05 L600.66 278.72 L601.35 287.83 L602.04 303.72 L602.74 321.44 L603.43 332.07 L604.12 329.17 L604.81 350.88 L605.50 336.02 L606.19 319.04 L606.88 302.02 L607.58 286.77 L608.27 274.88 L608.96 282.90 L609.65 293.06 L610.34 301.27 L611.03 309.45 L611.72 318.38 L612.42 325.37 L613.11 335.52 L613.80 320.94 L614.49 311.95 L615.18 311.67 L615.87 295.37 L616.57 281.14 L617.26 271.20 L617.95 278.52 L618.64 291.21 L619.33 303.83 L620.02 315.77 L620.71 317.54 L621.41 323.55 L622.10 331.52 L622.79 323.08 L623.48 311.90 L624.17 301.92 L624.86 292.54 L625.55 284.57 L626.25 276.80 L626.94 289.40 L627.63 304.03 L628.32 312.34 L629.01 313.72 L629.70 326.40 L630.39 313.83 L631.09 305.07 L631.78 307.65 L632.47 299.33 L633.16 288.72 L633.85 279.52 L634.54 289.92 L635.23 299.98 L635.93 308.76 L636.62 317.97 L637.31 317.71 L638.00 340.00 L638.69 331.49 L639.38 317.55 L640.07 301.48 L640.77 287.34 L641.46 279.20 L642.15 285.94 L642.84 297.96 L643.53 305.29 L644.22 310.14 L644.92 310.15 L645.61 323.20 L646.30 313.77 L646.99 303.11 L647.68 306.42 L648.37 306.08 L649.06 295.81 L649.76 286.75 L650.45 283.33 L651.14 277.12 L651.83 289.77 L652.52 307.23 L653.21 325.24 L653.90 332.17 L654.60 336.41 L655.29 343.52 L655.98 322.50 L656.67 324.56 L657.36 306.70 L658.05 289.68 L658.74 276.32 L659.44 288.04 L660.13 307.62 L660.82 324.78 L661.51 326.66 L662.20 339.20 L662.89 331.37 L663.58 321.15 L664.28 310.56 L664.97 300.19 L665.66 290.32 L666.35 282.86 L667.04 278.40 L667.73 285.27 L668.42 300.02 L669.12 315.44 L669.81 322.43 L670.50 322.70 L671.19 330.01 L671.88 335.52 L672.57 319.41 L673.26 304.77 L673.96 302.51 L674.65 290.31 L675.34 277.12 L676.03 287.76 L676.72 305.48 L677.41 318.26 L678.11 320.73 L678.80 330.08 L679.49 314.08 L680.18 299.57 L680.87 296.04 L681.56 287.54 L682.25 279.48 L682.95 268.48 L683.64 277.39 L684.33 288.84 L685.02 298.84 L685.71 308.74 L686.40 310.09 L687.09 319.32 L687.79 332.80 L688.48 327.30 L689.17 314.83 L689.86 298.62 L690.55 290.14 L691.24 281.58 L691.93 272.32 L692.63 290.38 L693.32 313.35 L694.01 323.58 L694.70 338.88 L695.39 334.89 L696.08 327.50 L696.77 317.54 L697.47 309.18 L698.16 300.89 L698.85 293.35 L699.54 286.47 L700.23 280.48 L700.92 293.28 L701.61 304.70 L702.31 312.65 L703.00 316.87 L703.69 329.28 L704.38 318.77 L705.07 311.74 L705.76 310.00 L706.46 300.73 L707.15 290.92 L707.84 282.08 L708.53 289.70 L709.22 301.85 L709.91 312.94 L710.60 322.00 L711.30 320.15 L711.99 330.88 L712.68 343.20 L713.37 332.13 L714.06 321.26 L714.75 310.41 L715.44 293.90 L716.14 280.50 L716.83 272.80 L717.52 285.71 L718.21 302.66 L718.90 307.16 L719.59 330.40 L720.28 326.73 L720.98 321.40 L721.67 314.59 L722.36 305.51 L723.05 296.01 L723.74 286.55 L724.43 279.35 L725.12 275.20 L725.82 285.93 L726.51 302.46 L727.20 318.02 L727.89 321.54 L728.58 328.80 L729.27 322.11 L729.96 312.42 L730.66 303.96 L731.35 295.66 L732.04 285.84 L732.73 278.11 L733.42 273.28 L734.11 287.22 L734.81 303.53 L735.50 316.40 L736.19 313.63 L736.88 327.20 L737.57 319.74 L738.26 308.57 L738.95 300.89 L739.65 292.93 L740.34 280.11 L741.03 272.48 L741.72 285.43 L742.41 302.48 L743.10 318.22 L743.79 319.26 L744.49 342.08 L745.18 329.21 L745.87 316.81 L746.56 313.00 L747.25 310.24 L747.94 300.52 L748.63 290.01 L749.33 280.80 L750.02 289.84 L750.71 303.58 L751.40 309.17 L752.09 311.73 L752.78 328.48 L753.47 317.11 L754.17 305.25 L754.86 300.56 L755.55 299.46 L756.24 292.94 L756.93 284.29 L757.62 277.28 L758.31 284.95 L759.01 298.20 L759.70 314.01 L760.39 320.76 L761.08 325.68 L761.77 335.20 L762.46 329.18 L763.16 322.72 L763.85 313.77 L764.54 304.19 L765.23 296.16 L765.92 288.63 L766.61 281.92 L767.30 290.41 L768.00 305.66 L768.69 320.78 L769.38 330.33 L770.07 329.62 L770.76 332.31 L771.45 336.80 L772.14 326.47 L772.84 312.45 L773.53 300.97 L774.22 289.14 L774.91 276.80 L775.60 287.87 L776.29 307.23 L776.98 323.12 L777.68 326.33 L778.37 336.48 L779.06 328.13 L779.75 314.63 L780.44 306.04 L781.13 297.61 L781.82 286.19 L782.52 276.80 L783.21 289.00 L783.90 306.76 L784.59 325.42 L785.28 326.40 L785.97 330.88 L786.66 335.52 L787.36 329.13 L788.05 318.01 L788.74 309.32 L789.43 300.79 L790.12 290.80 L790.81 282.30 L791.51 276.00 L792.20 284.50 L792.89 296.81 L793.58 308.53 L794.27 319.89 L794.96 321.67 L795.65 323.67 L796.35 328.48 L797.04 321.33 L797.73 311.76 L798.42 297.59 L799.11 284.03 L799.80 274.40 L800.49 287.47 L801.19 302.00 L801.88 315.83 L802.57 316.61 L803.26 329.60 L803.95 314.69 L804.64 300.79 L805.33 302.02 L806.03 294.39 L806.72 284.06 L807.41 275.20 L808.10 283.26 L808.79 296.93 L809.48 306.61 L810.17 309.02 L810.87 312.33 L811.56 327.52 L812.25 322.52 L812.94 315.52 L813.63 307.29 L814.32 298.36 L815.01 288.53 L815.71 280.39 L816.40 274.88 L817.09 280.36 L817.78 292.74 L818.47 307.43 L819.16 315.04 L819.85 310.55 L820.55 321.26 L821.24 333.60 L821.93 318.00 L822.62 311.62 L823.31 305.07 L824.00 293.25 L824.70 280.48 L825.39 287.66 L826.08 302.92 L826.77 320.09 L827.46 317.45 L828.15 323.61 L828.84 334.88 L829.54 313.44 L830.23 312.11 L830.92 300.47 L831.61 290.13 L832.30 277.60 L832.99 288.02 L833.68 301.58 L834.38 319.82 L835.07 323.86 L835.76 331.46 L836.45 338.72 L837.14 332.75 L837.83 322.33 L838.52 310.78 L839.22 298.67 L839.91 288.28 L840.60 279.38 L841.29 272.48 L841.98 288.68 L842.67 308.06 L843.36 316.96 L844.06 325.60 L844.75 314.36 L845.44 304.85 L846.13 306.06 L846.82 297.99 L847.51 287.43 L848.20 280.55 L848.90 273.90 L849.59 267.20 L850.28 278.58 L850.97 297.40 L851.66 313.52 L852.35 311.15 L853.05 325.92 L853.74 313.73 L854.43 309.50 L855.12 306.93 L855.81 296.62 L856.50 289.84 L857.19 283.64 L857.89 278.09 L858.58 272.00 L859.27 289.46 L859.96 316.77 L860.65 330.70 L861.34 334.48 L862.03 346.40 L862.73 336.96 L863.42 320.63 L864.11 304.40 L864.80 295.20" fill="none" stroke="#1f77b4" stroke-width="2.08" stroke-linejoin="round" stroke-linecap="square"/>
<rect x="125.5" y="261.5" width="775.0" height="117.0" fill="none" stroke="#000" stroke-width="1.11"/>
<path d="M201.5 378.5 v4.86" stroke="#000" stroke-width="1.11"/>
<path d="M284.5 378.5 v4.86" stroke="#000" stroke-width="1.11"/>
<path d="M367.5 378.5 v4.86" stroke="#000" stroke-width="1.11"/>
<path d="M450.5 378.5 v4.86" stroke="#000" stroke-width="1.11"/>
<path d="M533.5 378.5 v4.86" stroke="#000" stroke-width="1.11"/>
<path d="M616.5 378.5 v4.86" stroke="#000" stroke-width="1.11"/>
<path d="M699.5 378.5 v4.86" stroke="#000" stroke-width="1.11"/>
<path d="M782.5 378.5 v4.86" stroke="#000" stroke-width="1.11"/>
<path d="M865.5 378.5 v4.86" stroke="#000" stroke-width="1.11"/>
<path d="M125.5 305.5 h-5.1" stroke="#000" stroke-width="1.11"/>
<text x="114.65" y="310.60" text-anchor="end" font-size="13.9" textLength="38.3" lengthAdjust="spacingAndGlyphs">0.004</text>
<path d="M125.5 351.5 h-5.1" stroke="#000" stroke-width="1.11"/>
<text x="114.65" y="356.60" text-anchor="end" font-size="13.9" textLength="38.3" lengthAdjust="spacingAndGlyphs">0.002</text>
<text transform="translate(65.80 320.61) rotate(-90)" text-anchor="middle" font-size="13.9" textLength="54.9" lengthAdjust="spacingAndGlyphs">fieldmin</text>
<text transform="translate(198.99 397.43) rotate(-30)" text-anchor="end" font-size="13.9" textLength="35.3" lengthAdjust="spacingAndGlyphs">2020</text><text transform="translate(281.95 397.43) rotate(-30)" text-anchor="end" font-size="13.9" textLength="35.3" lengthAdjust="spacingAndGlyphs">2030</text><text transform="translate(364.92 397.43) rotate(-30)" text-anchor="end" font-size="13.9" textLength="35.3" lengthAdjust="spacingAndGlyphs">2040</text><text transform="translate(447.89 397.43) rotate(-30)" text-anchor="end" font-size="13.9" textLength="35.3" lengthAdjust="spacingAndGlyphs">2050</text><text transform="translate(530.86 397.43) rotate(-30)" text-anchor="end" font-size="13.9" textLength="35.3" lengthAdjust="spacingAndGlyphs">2060</text><text transform="translate(613.83 397.43) rotate(-30)" text-anchor="end" font-size="13.9" textLength="35.3" lengthAdjust="spacingAndGlyphs">2070</text><text transform="translate(696.79 397.43) rotate(-30)" text-anchor="end" font-size="13.9" textLength="35.3" lengthAdjust="spacingAndGlyphs">2080</text><text transform="translate(779.76 397.43) rotate(-30)" text-anchor="end" font-size="13.9" textLength="35.3" lengthAdjust="spacingAndGlyphs">2090</text><text transform="translate(862.73 397.43) rotate(-30)" text-anchor="end" font-size="13.9" textLength="35.3" lengthAdjust="spacingAndGlyphs">2100</text>
<rect x="125.00" y="401.38" width="775.00" height="117.24" fill="#fff"/>
<path d="M160.20 468.80 L160.89 478.01 L161.58 492.04 L162.27 493.60 L162.97 479.86 L163.66 465.92 L164.35 469.89 L165.04 484.03 L165.73 492.80 L166.42 490.81 L167.11 474.52 L167.81 473.58 L168.50 470.40 L169.19 482.57 L169.88 487.20 L170.57 465.82 L171.26 466.56 L171.95 444.80 L172.65 462.27 L173.34 477.50 L174.03 484.71 L174.72 505.12 L175.41 496.68 L176.10 477.67 L176.80 473.66 L177.49 469.60 L178.18 470.92 L178.87 483.68 L179.56 468.72 L180.25 455.20 L180.94 467.18 L181.64 481.65 L182.33 490.24 L183.02 501.92 L183.71 491.18 L184.40 476.88 L185.09 479.42 L185.78 461.60 L186.48 469.72 L187.17 471.20 L187.86 448.55 L188.55 430.40 L189.24 447.72 L189.93 462.14 L190.62 496.34 L191.32 512.80 L192.01 498.28 L192.70 471.01 L193.39 452.80 L194.08 467.09 L194.77 462.50 L195.46 479.20 L196.16 466.59 L196.85 444.00 L197.54 463.47 L198.23 465.74 L198.92 473.36 L199.61 492.00 L200.30 475.39 L201.00 452.00 L201.69 458.27 L202.38 474.95 L203.07 490.40 L203.76 484.08 L204.45 463.56 L205.15 459.20 L205.84 463.39 L206.53 470.32 L207.22 495.02 L207.91 500.80 L208.60 493.12 L209.29 482.44 L209.99 470.19 L210.68 466.40 L211.37 455.60 L212.06 457.04 L212.75 443.41 L213.44 442.40 L214.13 454.13 L214.83 469.74 L215.52 498.33 L216.21 507.20 L216.90 486.13 L217.59 477.34 L218.28 453.28 L218.97 467.35 L219.67 484.00 L220.36 474.24 L221.05 453.68 L221.74 448.00 L222.43 453.57 L223.12 461.50 L223.81 481.55 L224.51 482.91 L225.20 494.40 L225.89 469.61 L226.58 455.20 L227.27 465.57 L227.96 469.27 L228.65 482.40 L229.35 461.00 L230.04 442.72 L230.73 463.66 L231.42 469.96 L232.11 485.28 L232.80 497.92 L233.49 483.51 L234.19 471.35 L234.88 475.83 L235.57 460.00 L236.26 472.95 L236.95 492.00 L237.64 474.35 L238.34 450.88 L239.03 457.32 L239.72 483.10 L240.41 490.31 L241.10 495.52 L241.79 474.00 L242.48 454.40 L243.18 454.52 L243.87 472.69 L244.56 472.80 L245.25 464.67 L245.94 446.24 L246.63 438.72 L247.32 449.82 L248.02 454.11 L248.71 461.50 L249.40 480.99 L250.09 488.00 L250.78 475.71 L251.47 472.94 L252.16 464.00 L252.86 459.07 L253.55 446.64 L254.24 450.24 L254.93 437.92 L255.62 444.80 L256.31 461.64 L257.00 480.28 L257.70 495.52 L258.39 482.60 L259.08 476.87 L259.77 473.00 L260.46 464.00 L261.15 454.63 L261.84 457.83 L262.54 449.46 L263.23 434.88 L263.92 450.22 L264.61 462.37 L265.30 465.95 L265.99 480.32 L266.69 499.20 L267.38 460.00 L268.07 469.80 L268.76 480.47 L269.45 480.80 L270.14 468.82 L270.83 452.25 L271.53 438.40 L272.22 451.38 L272.91 480.99 L273.60 479.19 L274.29 501.60 L274.98 492.01 L275.67 481.26 L276.37 461.60 L277.06 474.05 L277.75 484.69 L278.44 489.28 L279.13 468.04 L279.82 450.40 L280.51 465.66 L281.21 478.32 L281.90 478.91 L282.59 494.48 L283.28 500.80 L283.97 485.93 L284.66 469.28 L285.35 475.63 L286.05 487.01 L286.74 493.92 L287.43 468.25 L288.12 452.80 L288.81 473.95 L289.50 488.12 L290.19 496.79 L290.89 506.72 L291.58 502.30 L292.27 492.34 L292.96 481.55 L293.65 474.40 L294.34 475.14 L295.04 484.00 L295.73 466.89 L296.42 466.63 L297.11 454.30 L297.80 444.80 L298.49 462.50 L299.18 473.88 L299.88 488.48 L300.57 482.70 L301.26 459.77 L301.95 451.20 L302.64 461.18 L303.33 476.00 L304.02 451.18 L304.72 433.60 L305.41 456.43 L306.10 470.16 L306.79 482.26 L307.48 499.68 L308.17 485.07 L308.86 479.49 L309.56 459.23 L310.25 452.00 L310.94 466.12 L311.63 472.80 L312.32 462.87 L313.01 443.68 L313.70 458.17 L314.40 466.04 L315.09 477.62 L315.78 496.48 L316.47 490.40 L317.16 481.51 L317.85 465.81 L318.54 451.20 L319.24 455.68 L319.93 465.60 L320.62 450.84 L321.31 437.28 L322.00 444.37 L322.69 457.05 L323.39 472.26 L324.08 480.34 L324.77 491.20 L325.46 489.48 L326.15 485.21 L326.84 472.80 L327.53 473.25 L328.23 481.60 L328.92 468.78 L329.61 446.88 L330.30 460.61 L330.99 469.39 L331.68 475.35 L332.37 488.80 L333.07 462.31 L333.76 447.52 L334.45 452.72 L335.14 453.13 L335.83 464.80 L336.52 454.12 L337.21 445.81 L337.91 444.00 L338.60 459.21 L339.29 469.22 L339.98 485.62 L340.67 496.80 L341.36 484.06 L342.05 468.85 L342.75 444.00 L343.44 457.14 L344.13 477.60 L344.82 454.81 L345.51 434.45 L346.20 424.48 L346.89 445.49 L347.59 452.78 L348.28 473.98 L348.97 495.20 L349.66 472.00 L350.35 444.00 L351.04 459.41 L351.74 475.25 L352.43 484.80 L353.12 479.02 L353.81 470.42 L354.50 453.60 L355.19 471.05 L355.88 479.93 L356.58 480.00 L357.27 496.48 L357.96 486.31 L358.65 481.26 L359.34 458.20 L360.03 448.00 L360.72 471.02 L361.42 484.80 L362.11 469.01 L362.80 442.40 L363.49 457.75 L364.18 461.91 L364.87 484.85 L365.56 494.40 L366.26 481.44 L366.95 467.44 L367.64 448.80 L368.33 457.11 L369.02 462.19 L369.71 461.60 L370.40 456.78 L371.10 451.20 L371.79 456.13 L372.48 475.66 L373.17 479.89 L373.86 482.08 L374.55 474.20 L375.24 473.45 L375.94 470.80 L376.63 466.40 L377.32 470.29 L378.01 474.40 L378.70 465.20 L379.39 448.48 L380.08 464.22 L380.78 463.44 L381.47 479.15 L382.16 492.80 L382.85 477.49 L383.54 465.63 L384.23 463.90 L384.93 453.92 L385.62 465.90 L386.31 469.60 L387.00 463.26 L387.69 446.08 L388.38 459.31 L389.07 452.27 L389.77 462.52 L390.46 476.12 L391.15 483.20 L391.84 472.04 L392.53 455.85 L393.22 438.88 L393.91 456.82 L394.61 466.40 L395.30 446.51 L395.99 431.20 L396.68 451.09 L397.37 469.05 L398.06 470.22 L398.75 489.28 L399.45 483.46 L400.14 463.21 L400.83 449.60 L401.52 454.36 L402.21 466.40 L402.90 459.94 L403.59 454.82 L404.29 446.88 L404.98 465.54 L405.67 469.95 L406.36 479.41 L407.05 492.32 L407.74 483.62 L408.43 472.76 L409.13 466.25 L409.82 453.60 L410.51 464.47 L411.20 474.40 L411.89 460.92 L412.58 436.32 L413.28 446.33 L413.97 462.93 L414.66 471.32 L415.35 490.72 L416.04 478.27 L416.73 462.17 L417.42 438.40 L418.12 431.82 L418.81 428.80 L419.50 443.83 L420.19 456.00 L420.88 443.09 L421.57 439.20 L422.26 448.19 L422.96 467.43 L423.65 488.80 L424.34 479.76 L425.03 461.99 L425.72 452.80 L426.41 465.89 L427.10 468.95 L427.80 486.40 L428.49 462.85 L429.18 448.48 L429.87 455.48 L430.56 463.59 L431.25 481.59 L431.94 492.00 L432.64 475.00 L433.33 460.55 L434.02 446.88 L434.71 448.13 L435.40 453.82 L436.09 462.40 L436.78 457.99 L437.48 450.31 L438.17 443.68 L438.86 458.62 L439.55 475.67 L440.24 483.20 L440.93 473.94 L441.63 461.98 L442.32 444.00 L443.01 449.62 L443.70 458.14 L444.39 469.60 L445.08 444.97 L445.77 427.20 L446.47 448.43 L447.16 449.55 L447.85 468.75 L448.54 488.00 L449.23 469.96 L449.92 453.15 L450.61 445.28 L451.31 450.18 L452.00 456.80 L452.69 444.36 L453.38 441.32 L454.07 435.68 L454.76 441.19 L455.45 452.91 L456.15 474.73 L456.84 487.98 L457.53 494.40 L458.22 470.72 L458.91 459.29 L459.60 441.60 L460.29 459.23 L460.99 476.80 L461.68 443.82 L462.37 418.40 L463.06 427.64 L463.75 437.39 L464.44 462.49 L465.13 475.94 L465.83 490.08 L466.52 464.87 L467.21 445.84 L467.90 431.20 L468.59 431.88 L469.28 431.58 L469.98 428.00 L470.67 425.79 L471.36 427.20 L472.05 452.62 L472.74 463.17 L473.43 486.52 L474.12 500.80 L474.82 476.00 L475.51 452.00 L476.20 459.69 L476.89 471.20 L477.58 478.40 L478.27 466.69 L478.96 450.08 L479.66 453.12 L480.35 465.07 L481.04 477.80 L481.73 482.08 L482.42 470.17 L483.11 462.36 L483.80 460.00 L484.50 459.07 L485.19 464.80 L485.88 453.84 L486.57 436.57 L487.26 417.60 L487.95 436.13 L488.64 448.54 L489.34 468.71 L490.03 483.68 L490.72 479.04 L491.41 463.97 L492.10 446.88 L492.79 458.11 L493.48 461.95 L494.18 464.80 L494.87 450.63 L495.56 428.80 L496.25 446.17 L496.94 459.56 L497.63 465.43 L498.33 473.60 L499.02 464.83 L499.71 449.60 L500.40 462.06 L501.09 458.15 L501.78 474.14 L502.47 485.60 L503.17 456.04 L503.86 438.40 L504.55 455.56 L505.24 471.13 L505.93 479.23 L506.62 498.40 L507.31 487.38 L508.01 467.63 L508.70 460.09 L509.39 444.00 L510.08 466.40 L510.77 488.00 L511.46 469.04 L512.15 437.92 L512.85 450.97 L513.54 463.52 L514.23 475.15 L514.92 477.60 L515.61 462.04 L516.30 443.68 L516.99 449.28 L517.69 460.80 L518.38 444.79 L519.07 438.17 L519.76 434.08 L520.45 436.65 L521.14 443.31 L521.83 463.96 L522.53 462.98 L523.22 469.10 L523.91 476.00 L524.60 464.99 L525.29 452.32 L525.98 465.44 L526.67 475.20 L527.37 463.89 L528.06 465.21 L528.75 460.88 L529.44 451.68 L530.13 467.92 L530.82 465.18 L531.52 480.00 L532.21 459.57 L532.90 449.53 L533.59 434.40 L534.28 435.03 L534.97 454.62 L535.66 455.20 L536.36 447.53 L537.05 439.20 L537.74 448.71 L538.43 457.69 L539.12 476.41 L539.81 485.60 L540.50 472.84 L541.20 470.36 L541.89 457.60 L542.58 456.82 L543.27 463.20 L543.96 452.30 L544.65 448.22 L545.34 446.88 L546.04 453.05 L546.73 471.39 L547.42 474.38 L548.11 478.40 L548.80 477.72 L549.49 471.62 L550.18 446.93 L550.88 445.28 L551.57 460.98 L552.26 478.40 L552.95 460.40 L553.64 430.88 L554.33 443.32 L555.02 464.66 L555.72 470.58 L556.41 479.20 L557.10 474.93 L557.79 460.53 L558.48 443.68 L559.17 444.81 L559.87 453.60 L560.56 443.03 L561.25 429.18 L561.94 424.00 L562.63 436.84 L563.32 441.10 L564.01 460.24 L564.71 476.09 L565.40 486.40 L566.09 477.74 L566.78 474.40 L567.47 476.92 L568.16 483.15 L568.85 484.00 L569.55 459.50 L570.24 422.88 L570.93 442.52 L571.62 449.13 L572.31 464.87 L573.00 486.88 L573.69 477.08 L574.39 460.27 L575.08 444.00 L575.77 445.93 L576.46 455.01 L577.15 457.25 L577.84 460.80 L578.53 444.98 L579.23 425.92 L579.92 441.34 L580.61 462.59 L581.30 486.88 L581.99 483.83 L582.68 476.17 L583.37 451.16 L584.07 448.80 L584.76 450.49 L585.45 456.00 L586.14 432.94 L586.83 406.88 L587.52 426.21 L588.22 434.83 L588.91 456.49 L589.60 481.60 L590.29 467.02 L590.98 451.20 L591.67 457.75 L592.36 467.77 L593.06 472.26 L593.75 485.28 L594.44 470.82 L595.13 450.40 L595.82 451.78 L596.51 458.04 L597.20 479.21 L597.90 482.40 L598.59 480.11 L599.28 466.20 L599.97 464.67 L600.66 460.00 L601.35 472.97 L602.04 478.40 L602.74 453.71 L603.43 425.28 L604.12 436.92 L604.81 455.07 L605.50 472.19 L606.19 482.72 L606.88 456.48 L607.58 432.00 L608.27 433.07 L608.96 453.80 L609.65 446.80 L610.34 460.00 L611.03 444.78 L611.72 428.00 L612.42 446.76 L613.11 455.34 L613.80 479.93 L614.49 491.52 L615.18 472.48 L615.87 465.07 L616.57 448.00 L617.26 454.50 L617.95 470.76 L618.64 476.80 L619.33 453.36 L620.02 435.20 L620.71 444.59 L621.41 463.37 L622.10 467.92 L622.79 481.60 L623.48 473.44 L624.17 459.76 L624.86 447.20 L625.55 457.71 L626.25 462.74 L626.94 463.20 L627.63 455.46 L628.32 435.05 L629.01 425.60 L629.70 453.60 L630.39 470.49 L631.09 476.80 L631.78 464.36 L632.47 456.72 L633.16 449.15 L633.85 442.72 L634.54 469.28 L635.23 450.44 L635.93 430.32 L636.62 418.08 L637.31 438.78 L638.00 451.13 L638.69 471.55 L639.38 482.40 L640.07 459.58 L640.77 451.08 L641.46 429.28 L642.15 436.60 L642.84 443.27 L643.53 461.60 L644.22 456.19 L644.92 450.52 L645.61 443.68 L646.30 457.91 L646.99 472.17 L647.68 479.20 L648.37 465.77 L649.06 451.20 L649.76 451.67 L650.45 455.10 L651.14 470.92 L651.83 473.60 L652.52 446.15 L653.21 428.80 L653.90 435.78 L654.60 459.25 L655.29 468.68 L655.98 478.88 L656.67 461.77 L657.36 457.69 L658.05 440.80 L658.74 454.26 L659.44 461.28 L660.13 449.12 L660.82 449.48 L661.51 432.48 L662.20 443.66 L662.89 455.86 L663.58 469.76 L664.28 477.60 L664.97 469.05 L665.66 450.40 L666.35 455.05 L667.04 456.83 L667.73 460.04 L668.42 460.00 L669.12 455.66 L669.81 443.20 L670.50 461.04 L671.19 467.73 L671.88 475.73 L672.57 486.08 L673.26 479.06 L673.96 460.92 L674.65 449.68 L675.34 439.20 L676.03 453.34 L676.72 461.60 L677.41 447.29 L678.11 436.00 L678.80 443.00 L679.49 457.55 L680.18 467.56 L680.87 482.40 L681.56 463.43 L682.25 455.37 L682.95 446.40 L683.64 440.44 L684.33 430.88 L685.02 439.94 L685.71 456.80 L686.40 446.54 L687.09 437.28 L687.79 459.75 L688.48 461.95 L689.17 485.28 L689.86 463.49 L690.55 447.21 L691.24 434.88 L691.93 445.41 L692.63 450.90 L693.32 456.80 L694.01 442.57 L694.70 436.00 L695.39 441.51 L696.08 462.87 L696.77 464.87 L697.47 478.40 L698.16 471.46 L698.85 456.80 L699.54 463.08 L700.23 475.20 L700.92 468.96 L701.61 446.37 L702.31 437.90 L703.00 424.48 L703.69 438.61 L704.38 447.14 L705.07 460.68 L705.76 482.08 L706.46 475.49 L707.15 457.54 L707.84 448.00 L708.53 454.58 L709.22 460.80 L709.91 452.55 L710.60 431.29 L711.30 412.80 L711.99 423.99 L712.68 449.80 L713.37 467.20 L714.06 488.00 L714.75 481.51 L715.44 469.94 L716.14 458.40 L716.83 460.79 L717.52 471.20 L718.21 455.93 L718.90 454.10 L719.59 436.80 L720.28 450.25 L720.98 470.29 L721.67 467.13 L722.36 482.08 L723.05 469.69 L723.74 471.99 L724.43 448.03 L725.12 454.75 L725.82 442.72 L726.51 464.00 L727.20 439.32 L727.89 424.80 L728.58 443.97 L729.27 447.54 L729.96 471.89 L730.66 488.00 L731.35 478.51 L732.04 455.98 L732.73 437.92 L733.42 434.76 L734.11 434.08 L734.81 474.40 L735.50 463.87 L736.19 443.20 L736.88 459.36 L737.57 458.94 L738.26 477.11 L738.95 487.52 L739.65 466.53 L740.34 461.62 L741.03 440.80 L741.72 448.47 L742.41 455.43 L743.10 472.80 L743.79 452.40 L744.49 432.80 L745.18 442.94 L745.87 461.56 L746.56 463.63 L747.25 482.08 L747.94 469.58 L748.63 465.67 L749.33 446.40 L750.02 452.70 L750.71 456.00 L751.40 440.72 L752.09 432.65 L752.78 416.00 L753.47 434.88 L754.17 450.84 L754.86 462.02 L755.55 487.52 L756.24 481.91 L756.93 462.19 L757.62 456.48 L758.31 459.42 L759.01 465.88 L759.70 472.80 L760.39 451.14 L761.08 434.40 L761.77 446.80 L762.46 466.23 L763.16 472.85 L763.85 490.72 L764.54 483.07 L765.23 465.41 L765.92 456.80 L766.61 466.36 L767.30 474.40 L768.00 457.98 L768.69 452.05 L769.38 433.12 L770.07 439.85 L770.76 448.84 L771.45 472.84 L772.14 482.40 L772.84 457.30 L773.53 440.00 L774.22 448.89 L774.91 451.19 L775.60 455.20 L776.29 440.64 L776.98 429.30 L777.68 424.48 L778.37 437.31 L779.06 443.64 L779.75 473.86 L780.44 481.60 L781.13 457.50 L781.82 433.12 L782.52 444.68 L783.21 455.02 L783.90 453.68 L784.59 462.88 L785.28 442.21 L785.97 423.68 L786.66 436.42 L787.36 456.64 L788.05 474.02 L788.74 480.80 L789.43 471.71 L790.12 459.26 L790.81 445.92 L791.51 449.18 L792.20 454.54 L792.89 461.60 L793.58 434.25 L794.27 416.48 L794.96 429.31 L795.65 447.93 L796.35 461.40 L797.04 468.74 L797.73 480.00 L798.42 473.55 L799.11 465.04 L799.80 448.00 L800.49 456.21 L801.19 468.00 L801.88 445.08 L802.57 430.88 L803.26 452.61 L803.95 459.55 L804.64 476.71 L805.33 487.52 L806.03 465.29 L806.72 459.67 L807.41 435.20 L808.10 444.72 L808.79 461.60 L809.48 445.46 L810.17 438.60 L810.87 425.28 L811.56 438.18 L812.25 465.84 L812.94 469.80 L813.63 487.52 L814.32 459.58 L815.01 440.80 L815.71 442.14 L816.40 460.83 L817.09 459.98 L817.78 465.60 L818.47 453.53 L819.16 440.00 L819.85 453.13 L820.55 465.98 L821.24 470.16 L821.93 472.67 L822.62 479.20 L823.31 469.13 L824.00 445.46 L824.70 433.60 L825.39 445.65 L826.08 464.00 L826.77 462.60 L827.46 448.09 L828.15 448.61 L828.84 442.72 L829.54 457.50 L830.23 483.68 L830.92 476.13 L831.61 460.12 L832.30 437.92 L832.99 443.31 L833.68 457.48 L834.38 463.20 L835.07 445.12 L835.76 429.92 L836.45 448.49 L837.14 446.96 L837.83 466.77 L838.52 485.28 L839.22 467.09 L839.91 457.50 L840.60 448.44 L841.29 434.72 L841.98 445.36 L842.67 455.52 L843.36 438.19 L844.06 419.20 L844.75 423.04 L845.44 424.80 L846.13 452.88 L846.82 476.80 L847.51 472.07 L848.20 455.24 L848.90 440.69 L849.59 429.28 L850.28 437.49 L850.97 442.72 L851.66 437.63 L852.35 428.35 L853.05 415.20 L853.74 438.42 L854.43 449.60 L855.12 465.52 L855.81 472.80 L856.50 466.98 L857.19 463.42 L857.89 457.60 L858.58 466.32 L859.27 474.40 L859.96 457.58 L860.65 442.40 L861.34 451.69 L862.03 456.76 L862.73 482.15 L863.42 490.72 L864.11 478.98 L864.80 461.60" fill="none" stroke="#1f77b4" stroke-width="2.08" stroke-linejoin="round" stroke-linecap="square"/>
<rect x="125.5" y="401.5" width="775.0" height="118.0" fill="none" stroke="#000" stroke-width="1.11"/>
<path d="M201.5 519.5 v4.86" stroke="#000" stroke-width="1.11"/>
<path d="M284.5 519.5 v4.86" stroke="#000" stroke-width="1.11"/>
<path d="M367.5 519.5 v4.86" stroke="#000" stroke-width="1.11"/>
<path d="M450.5 519.5 v4.86" stroke="#000" stroke-width="1.11"/>
<path d="M533.5 519.5 v4.86" stroke="#000" stroke-width="1.11"/>
<path d="M616.5 519.5 v4.86" stroke="#000" stroke-width="1.11"/>
<path d="M699.5 519.5 v4.86" stroke="#000" stroke-width="1.11"/>
<path d="M782.5 519.5 v4.86" stroke="#000" stroke-width="1.11"/>
<path d="M865.5 519.5 v4.86" stroke="#000" stroke-width="1.11"/>
<path d="M125.5 413.5 h-5.1" stroke="#000" stroke-width="1.11"/>
<text x="114.65" y="418.60" text-anchor="end" font-size="13.9" textLength="38.3" lengthAdjust="spacingAndGlyphs">0.022</text>
<path d="M125.5 456.5 h-5.1" stroke="#000" stroke-width="1.11"/>
<text x="114.65" y="461.60" text-anchor="end" font-size="13.9" textLength="38.3" lengthAdjust="spacingAndGlyphs">0.020</text>
<path d="M125.5 499.5 h-5.1" stroke="#000" stroke-width="1.11"/>
<text x="114.65" y="504.60" text-anchor="end" font-size="13.9" textLength="38.3" lengthAdjust="spacingAndGlyphs">0.018</text>
<text transform="translate(65.80 461.00) rotate(-90)" text-anchor="middle" font-size="13.9" textLength="59.3" lengthAdjust="spacingAndGlyphs">fieldmax</text>
<text transform="translate(198.99 538.12) rotate(-30)" text-anchor="end" font-size="13.9" textLength="35.3" lengthAdjust="spacingAndGlyphs">2020</text><text transform="translate(281.95 538.12) rotate(-30)" text-anchor="end" font-size="13.9" textLength="35.3" lengthAdjust="spacingAndGlyphs">2030</text><text transform="translate(364.92 538.12) rotate(-30)" text-anchor="end" font-size="13.9" textLength="35.3" lengthAdjust="spacingAndGlyphs">2040</text><text transform="translate(447.89 538.12) rotate(-30)" text-anchor="end" font-size="13.9" textLength="35.3" lengthAdjust="spacingAndGlyphs">2050</text><text transform="translate(530.86 538.12) rotate(-30)" text-anchor="end" font-size="13.9" textLength="35.3" lengthAdjust="spacingAndGlyphs">2060</text><text transform="translate(613.83 538.12) rotate(-30)" text-anchor="end" font-size="13.9" textLength="35.3" lengthAdjust="spacingAndGlyphs">2070</text><text transform="translate(696.79 538.12) rotate(-30)" text-anchor="end" font-size="13.9" textLength="35.3" lengthAdjust="spacingAndGlyphs">2080</text><text transform="translate(779.76 538.12) rotate(-30)" text-anchor="end" font-size="13.9" textLength="35.3" lengthAdjust="spacingAndGlyphs">2090</text><text transform="translate(862.73 538.12) rotate(-30)" text-anchor="end" font-size="13.9" textLength="35.3" lengthAdjust="spacingAndGlyphs">2100</text>
<rect x="125.00" y="542.07" width="775.00" height="117.24" fill="#fff"/>
<path d="M160.20 601.00 L160.89 601.00 L161.58 601.00 L162.27 601.00 L162.97 601.00 L163.66 601.00 L164.35 601.00 L165.04 601.00 L165.73 601.00 L166.42 601.00 L167.11 601.00 L167.81 601.00 L168.50 601.00 L169.19 601.00 L169.88 601.00 L170.57 601.00 L171.26 601.00 L171.95 601.00 L172.65 601.00 L173.34 601.00 L174.03 601.00 L174.72 601.00 L175.41 601.00 L176.10 601.00 L176.80 601.00 L177.49 601.00 L178.18 601.00 L178.87 601.00 L179.56 601.00 L180.25 601.00 L180.94 601.00 L181.64 601.00 L182.33 601.00 L183.02 601.00 L183.71 601.00 L184.40 601.00 L185.09 601.00 L185.78 601.00 L186.48 601.00 L187.17 601.00 L187.86 601.00 L188.55 601.00 L189.24 601.00 L189.93 601.00 L190.62 601.00 L191.32 601.00 L192.01 601.00 L192.70 601.00 L193.39 601.00 L194.08 601.00 L194.77 601.00 L195.46 601.00 L196.16 601.00 L196.85 601.00 L197.54 601.00 L198.23 601.00 L198.92 601.00 L199.61 601.00 L200.30 601.00 L201.00 601.00 L201.69 601.00 L202.38 601.00 L203.07 601.00 L203.76 601.00 L204.45 601.00 L205.15 601.00 L205.84 601.00 L206.53 601.00 L207.22 601.00 L207.91 601.00 L208.60 601.00 L209.29 601.00 L209.99 601.00 L210.68 601.00 L211.37 601.00 L212.06 601.00 L212.75 601.00 L213.44 601.00 L214.13 601.00 L214.83 601.00 L215.52 601.00 L216.21 601.00 L216.90 601.00 L217.59 601.00 L218.28 601.00 L218.97 601.00 L219.67 601.00 L220.36 601.00 L221.05 601.00 L221.74 601.00 L222.43 601.00 L223.12 601.00 L223.81 601.00 L224.51 601.00 L225.20 601.00 L225.89 601.00 L226.58 601.00 L227.27 601.00 L227.96 601.00 L228.65 601.00 L229.35 601.00 L230.04 601.00 L230.73 601.00 L231.42 601.00 L232.11 601.00 L232.80 601.00 L233.49 601.00 L234.19 601.00 L234.88 601.00 L235.57 601.00 L236.26 601.00 L236.95 601.00 L237.64 601.00 L238.34 601.00 L239.03 601.00 L239.72 601.00 L240.41 601.00 L241.10 601.00 L241.79 601.00 L242.48 601.00 L243.18 601.00 L243.87 601.00 L244.56 601.00 L245.25 601.00 L245.94 601.00 L246.63 601.00 L247.32 601.00 L248.02 601.00 L248.71 601.00 L249.40 601.00 L250.09 601.00 L250.78 601.00 L251.47 601.00 L252.16 601.00 L252.86 601.00 L253.55 601.00 L254.24 601.00 L254.93 601.00 L255.62 601.00 L256.31 601.00 L257.00 601.00 L257.70 601.00 L258.39 601.00 L259.08 601.00 L259.77 601.00 L260.46 601.00 L261.15 601.00 L261.84 601.00 L262.54 601.00 L263.23 601.00 L263.92 601.00 L264.61 601.00 L265.30 601.00 L265.99 601.00 L266.69 601.00 L267.38 601.00 L268.07 601.00 L268.76 601.00 L269.45 601.00 L270.14 601.00 L270.83 601.00 L271.53 601.00 L272.22 601.00 L272.91 601.00 L273.60 601.00 L274.29 601.00 L274.98 601.00 L275.67 601.00 L276.37 601.00 L277.06 601.00 L277.75 601.00 L278.44 601.00 L279.13 601.00 L279.82 601.00 L280.51 601.00 L281.21 601.00 L281.90 601.00 L282.59 601.00 L283.28 601.00 L283.97 601.00 L284.66 601.00 L285.35 601.00 L286.05 601.00 L286.74 601.00 L287.43 601.00 L288.12 601.00 L288.81 601.00 L289.50 601.00 L290.19 601.00 L290.89 601.00 L291.58 601.00 L292.27 601.00 L292.96 601.00 L293.65 601.00 L294.34 601.00 L295.04 601.00 L295.73 601.00 L296.42 601.00 L297.11 601.00 L297.80 601.00 L298.49 601.00 L299.18 601.00 L299.88 601.00 L300.57 601.00 L301.26 601.00 L301.95 601.00 L302.64 601.00 L303.33 601.00 L304.02 601.00 L304.72 601.00 L305.41 601.00 L306.10 601.00 L306.79 601.00 L307.48 601.00 L308.17 601.00 L308.86 601.00 L309.56 601.00 L310.25 601.00 L310.94 601.00 L311.63 601.00 L312.32 601.00 L313.01 601.00 L313.70 601.00 L314.40 601.00 L315.09 601.00 L315.78 601.00 L316.47 601.00 L317.16 601.00 L317.85 601.00 L318.54 601.00 L319.24 601.00 L319.93 601.00 L320.62 601.00 L321.31 601.00 L322.00 601.00 L322.69 601.00 L323.39 601.00 L324.08 601.00 L324.77 601.00 L325.46 601.00 L326.15 601.00 L326.84 601.00 L327.53 601.00 L328.23 601.00 L328.92 601.00 L329.61 601.00 L330.30 601.00 L330.99 601.00 L331.68 601.00 L332.37 601.00 L333.07 601.00 L333.76 601.00 L334.45 601.00 L335.14 601.00 L335.83 601.00 L336.52 601.00 L337.21 601.00 L337.91 601.00 L338.60 601.00 L339.29 601.00 L339.98 601.00 L340.67 601.00 L341.36 601.00 L342.05 601.00 L342.75 601.00 L343.44 601.00 L344.13 601.00 L344.82 601.00 L345.51 601.00 L346.20 601.00 L346.89 601.00 L347.59 601.00 L348.28 601.00 L348.97 601.00 L349.66 601.00 L350.35 601.00 L351.04 601.00 L351.74 601.00 L352.43 601.00 L353.12 601.00 L353.81 601.00 L354.50 601.00 L355.19 601.00 L355.88 601.00 L356.58 601.00 L357.27 601.00 L357.96 601.00 L358.65 601.00 L359.34 601.00 L360.03 601.00 L360.72 601.00 L361.42 601.00 L362.11 601.00 L362.80 601.00 L363.49 601.00 L364.18 601.00 L364.87 601.00 L365.56 601.00 L366.26 601.00 L366.95 601.00 L367.64 601.00 L368.33 601.00 L369.02 601.00 L369.71 601.00 L370.40 601.00 L371.10 601.00 L371.79 601.00 L372.48 601.00 L373.17 601.00 L373.86 601.00 L374.55 601.00 L375.24 601.00 L375.94 601.00 L376.63 601.00 L377.32 601.00 L378.01 601.00 L378.70 601.00 L379.39 601.00 L380.08 601.00 L380.78 601.00 L381.47 601.00 L382.16 601.00 L382.85 601.00 L383.54 601.00 L384.23 601.00 L384.93 601.00 L385.62 601.00 L386.31 601.00 L387.00 601.00 L387.69 601.00 L388.38 601.00 L389.07 601.00 L389.77 601.00 L390.46 601.00 L391.15 601.00 L391.84 601.00 L392.53 601.00 L393.22 601.00 L393.91 601.00 L394.61 601.00 L395.30 601.00 L395.99 601.00 L396.68 601.00 L397.37 601.00 L398.06 601.00 L398.75 601.00 L399.45 601.00 L400.14 601.00 L400.83 601.00 L401.52 601.00 L402.21 601.00 L402.90 601.00 L403.59 601.00 L404.29 601.00 L404.98 601.00 L405.67 601.00 L406.36 601.00 L407.05 601.00 L407.74 601.00 L408.43 601.00 L409.13 601.00 L409.82 601.00 L410.51 601.00 L411.20 601.00 L411.89 601.00 L412.58 601.00 L413.28 601.00 L413.97 601.00 L414.66 601.00 L415.35 601.00 L416.04 601.00 L416.73 601.00 L417.42 601.00 L418.12 601.00 L418.81 601.00 L419.50 601.00 L420.19 601.00 L420.88 601.00 L421.57 601.00 L422.26 601.00 L422.96 601.00 L423.65 601.00 L424.34 601.00 L425.03 601.00 L425.72 601.00 L426.41 601.00 L427.10 601.00 L427.80 601.00 L428.49 601.00 L429.18 601.00 L429.87 601.00 L430.56 601.00 L431.25 601.00 L431.94 601.00 L432.64 601.00 L433.33 601.00 L434.02 601.00 L434.71 601.00 L435.40 601.00 L436.09 601.00 L436.78 601.00 L437.48 601.00 L438.17 601.00 L438.86 601.00 L439.55 601.00 L440.24 601.00 L440.93 601.00 L441.63 601.00 L442.32 601.00 L443.01 601.00 L443.70 601.00 L444.39 601.00 L445.08 601.00 L445.77 601.00 L446.47 601.00 L447.16 601.00 L447.85 601.00 L448.54 601.00 L449.23 601.00 L449.92 601.00 L450.61 601.00 L451.31 601.00 L452.00 601.00 L452.69 601.00 L453.38 601.00 L454.07 601.00 L454.76 601.00 L455.45 601.00 L456.15 601.00 L456.84 601.00 L457.53 601.00 L458.22 601.00 L458.91 601.00 L459.60 601.00 L460.29 601.00 L460.99 601.00 L461.68 601.00 L462.37 601.00 L463.06 601.00 L463.75 601.00 L464.44 601.00 L465.13 601.00 L465.83 601.00 L466.52 601.00 L467.21 601.00 L467.90 601.00 L468.59 601.00 L469.28 601.00 L469.98 601.00 L470.67 601.00 L471.36 601.00 L472.05 601.00 L472.74 601.00 L473.43 601.00 L474.12 601.00 L474.82 601.00 L475.51 601.00 L476.20 601.00 L476.89 601.00 L477.58 601.00 L478.27 601.00 L478.96 601.00 L479.66 601.00 L480.35 601.00 L481.04 601.00 L481.73 601.00 L482.42 601.00 L483.11 601.00 L483.80 601.00 L484.50 601.00 L485.19 601.00 L485.88 601.00 L486.57 601.00 L487.26 601.00 L487.95 601.00 L488.64 601.00 L489.34 601.00 L490.03 601.00 L490.72 601.00 L491.41 601.00 L492.10 601.00 L492.79 601.00 L493.48 601.00 L494.18 601.00 L494.87 601.00 L495.56 601.00 L496.25 601.00 L496.94 601.00 L497.63 601.00 L498.33 601.00 L499.02 601.00 L499.71 601.00 L500.40 601.00 L501.09 601.00 L501.78 601.00 L502.47 601.00 L503.17 601.00 L503.86 601.00 L504.55 601.00 L505.24 601.00 L505.93 601.00 L506.62 601.00 L507.31 601.00 L508.01 601.00 L508.70 601.00 L509.39 601.00 L510.08 601.00 L510.77 601.00 L511.46 601.00 L512.15 601.00 L512.85 601.00 L513.54 601.00 L514.23 601.00 L514.92 601.00 L515.61 601.00 L516.30 601.00 L516.99 601.00 L517.69 601.00 L518.38 601.00 L519.07 601.00 L519.76 601.00 L520.45 601.00 L521.14 601.00 L521.83 601.00 L522.53 601.00 L523.22 601.00 L523.91 601.00 L524.60 601.00 L525.29 601.00 L525.98 601.00 L526.67 601.00 L527.37 601.00 L528.06 601.00 L528.75 601.00 L529.44 601.00 L530.13 601.00 L530.82 601.00 L531.52 601.00 L532.21 601.00 L532.90 601.00 L533.59 601.00 L534.28 601.00 L534.97 601.00 L535.66 601.00 L536.36 601.00 L537.05 601.00 L537.74 601.00 L538.43 601.00 L539.12 601.00 L539.81 601.00 L540.50 601.00 L541.20 601.00 L541.89 601.00 L542.58 601.00 L543.27 601.00 L543.96 601.00 L544.65 601.00 L545.34 601.00 L546.04 601.00 L546.73 601.00 L547.42 601.00 L548.11 601.00 L548.80 601.00 L549.49 601.00 L550.18 601.00 L550.88 601.00 L551.57 601.00 L552.26 601.00 L552.95 601.00 L553.64 601.00 L554.33 601.00 L555.02 601.00 L555.72 601.00 L556.41 601.00 L557.10 601.00 L557.79 601.00 L558.48 601.00 L559.17 601.00 L559.87 601.00 L560.56 601.00 L561.25 601.00 L561.94 601.00 L562.63 601.00 L563.32 601.00 L564.01 601.00 L564.71 601.00 L565.40 601.00 L566.09 601.00 L566.78 601.00 L567.47 601.00 L568.16 601.00 L568.85 601.00 L569.55 601.00 L570.24 601.00 L570.93 601.00 L571.62 601.00 L572.31 601.00 L573.00 601.00 L573.69 601.00 L574.39 601.00 L575.08 601.00 L575.77 601.00 L576.46 601.00 L577.15 601.00 L577.84 601.00 L578.53 601.00 L579.23 601.00 L579.92 601.00 L580.61 601.00 L581.30 601.00 L581.99 601.00 L582.68 601.00 L583.37 601.00 L584.07 601.00 L584.76 601.00 L585.45 601.00 L586.14 601.00 L586.83 601.00 L587.52 601.00 L588.22 601.00 L588.91 601.00 L589.60 601.00 L590.29 601.00 L590.98 601.00 L591.67 601.00 L592.36 601.00 L593.06 601.00 L593.75 601.00 L594.44 601.00 L595.13 601.00 L595.82 601.00 L596.51 601.00 L597.20 601.00 L597.90 601.00 L598.59 601.00 L599.28 601.00 L599.97 601.00 L600.66 601.00 L601.35 601.00 L602.04 601.00 L602.74 601.00 L603.43 601.00 L604.12 601.00 L604.81 601.00 L605.50 601.00 L606.19 601.00 L606.88 601.00 L607.58 601.00 L608.27 601.00 L608.96 601.00 L609.65 601.00 L610.34 601.00 L611.03 601.00 L611.72 601.00 L612.42 601.00 L613.11 601.00 L613.80 601.00 L614.49 601.00 L615.18 601.00 L615.87 601.00 L616.57 601.00 L617.26 601.00 L617.95 601.00 L618.64 601.00 L619.33 601.00 L620.02 601.00 L620.71 601.00 L621.41 601.00 L622.10 601.00 L622.79 601.00 L623.48 601.00 L624.17 601.00 L624.86 601.00 L625.55 601.00 L626.25 601.00 L626.94 601.00 L627.63 601.00 L628.32 601.00 L629.01 601.00 L629.70 601.00 L630.39 601.00 L631.09 601.00 L631.78 601.00 L632.47 601.00 L633.16 601.00 L633.85 601.00 L634.54 601.00 L635.23 601.00 L635.93 601.00 L636.62 601.00 L637.31 601.00 L638.00 601.00 L638.69 601.00 L639.38 601.00 L640.07 601.00 L640.77 601.00 L641.46 601.00 L642.15 601.00 L642.84 601.00 L643.53 601.00 L644.22 601.00 L644.92 601.00 L645.61 601.00 L646.30 601.00 L646.99 601.00 L647.68 601.00 L648.37 601.00 L649.06 601.00 L649.76 601.00 L650.45 601.00 L651.14 601.00 L651.83 601.00 L652.52 601.00 L653.21 601.00 L653.90 601.00 L654.60 601.00 L655.29 601.00 L655.98 601.00 L656.67 601.00 L657.36 601.00 L658.05 601.00 L658.74 601.00 L659.44 601.00 L660.13 601.00 L660.82 601.00 L661.51 601.00 L662.20 601.00 L662.89 601.00 L663.58 601.00 L664.28 601.00 L664.97 601.00 L665.66 601.00 L666.35 601.00 L667.04 601.00 L667.73 601.00 L668.42 601.00 L669.12 601.00 L669.81 601.00 L670.50 601.00 L671.19 601.00 L671.88 601.00 L672.57 601.00 L673.26 601.00 L673.96 601.00 L674.65 601.00 L675.34 601.00 L676.03 601.00 L676.72 601.00 L677.41 601.00 L678.11 601.00 L678.80 601.00 L679.49 601.00 L680.18 601.00 L680.87 601.00 L681.56 601.00 L682.25 601.00 L682.95 601.00 L683.64 601.00 L684.33 601.00 L685.02 601.00 L685.71 601.00 L686.40 601.00 L687.09 601.00 L687.79 601.00 L688.48 601.00 L689.17 601.00 L689.86 601.00 L690.55 601.00 L691.24 601.00 L691.93 601.00 L692.63 601.00 L693.32 601.00 L694.01 601.00 L694.70 601.00 L695.39 601.00 L696.08 601.00 L696.77 601.00 L697.47 601.00 L698.16 601.00 L698.85 601.00 L699.54 601.00 L700.23 601.00 L700.92 601.00 L701.61 601.00 L702.31 601.00 L703.00 601.00 L703.69 601.00 L704.38 601.00 L705.07 601.00 L705.76 601.00 L706.46 601.00 L707.15 601.00 L707.84 601.00 L708.53 601.00 L709.22 601.00 L709.91 601.00 L710.60 601.00 L711.30 601.00 L711.99 601.00 L712.68 601.00 L713.37 601.00 L714.06 601.00 L714.75 601.00 L715.44 601.00 L716.14 601.00 L716.83 601.00 L717.52 601.00 L718.21 601.00 L718.90 601.00 L719.59 601.00 L720.28 601.00 L720.98 601.00 L721.67 601.00 L722.36 601.00 L723.05 601.00 L723.74 601.00 L724.43 601.00 L725.12 601.00 L725.82 601.00 L726.51 601.00 L727.20 601.00 L727.89 601.00 L728.58 601.00 L729.27 601.00 L729.96 601.00 L730.66 601.00 L731.35 601.00 L732.04 601.00 L732.73 601.00 L733.42 601.00 L734.11 601.00 L734.81 601.00 L735.50 601.00 L736.19 601.00 L736.88 601.00 L737.57 601.00 L738.26 601.00 L738.95 601.00 L739.65 601.00 L740.34 601.00 L741.03 601.00 L741.72 601.00 L742.41 601.00 L743.10 601.00 L743.79 601.00 L744.49 601.00 L745.18 601.00 L745.87 601.00 L746.56 601.00 L747.25 601.00 L747.94 601.00 L748.63 601.00 L749.33 601.00 L750.02 601.00 L750.71 601.00 L751.40 601.00 L752.09 601.00 L752.78 601.00 L753.47 601.00 L754.17 601.00 L754.86 601.00 L755.55 601.00 L756.24 601.00 L756.93 601.00 L757.62 601.00 L758.31 601.00 L759.01 601.00 L759.70 601.00 L760.39 601.00 L761.08 601.00 L761.77 601.00 L762.46 601.00 L763.16 601.00 L763.85 601.00 L764.54 601.00 L765.23 601.00 L765.92 601.00 L766.61 601.00 L767.30 601.00 L768.00 601.00 L768.69 601.00 L769.38 601.00 L770.07 601.00 L770.76 601.00 L771.45 601.00 L772.14 601.00 L772.84 601.00 L773.53 601.00 L774.22 601.00 L774.91 601.00 L775.60 601.00 L776.29 601.00 L776.98 601.00 L777.68 601.00 L778.37 601.00 L779.06 601.00 L779.75 601.00 L780.44 601.00 L781.13 601.00 L781.82 601.00 L782.52 601.00 L783.21 601.00 L783.90 601.00 L784.59 601.00 L785.28 601.00 L785.97 601.00 L786.66 601.00 L787.36 601.00 L788.05 601.00 L788.74 601.00 L789.43 601.00 L790.12 601.00 L790.81 601.00 L791.51 601.00 L792.20 601.00 L792.89 601.00 L793.58 601.00 L794.27 601.00 L794.96 601.00 L795.65 601.00 L796.35 601.00 L797.04 601.00 L797.73 601.00 L798.42 601.00 L799.11 601.00 L799.80 601.00 L800.49 601.00 L801.19 601.00 L801.88 601.00 L802.57 601.00 L803.26 601.00 L803.95 601.00 L804.64 601.00 L805.33 601.00 L806.03 601.00 L806.72 601.00 L807.41 601.00 L808.10 601.00 L808.79 601.00 L809.48 601.00 L810.17 601.00 L810.87 601.00 L811.56 601.00 L812.25 601.00 L812.94 601.00 L813.63 601.00 L814.32 601.00 L815.01 601.00 L815.71 601.00 L816.40 601.00 L817.09 601.00 L817.78 601.00 L818.47 601.00 L819.16 601.00 L819.85 601.00 L820.55 601.00 L821.24 601.00 L821.93 601.00 L822.62 601.00 L823.31 601.00 L824.00 601.00 L824.70 601.00 L825.39 601.00 L826.08 601.00 L826.77 601.00 L827.46 601.00 L828.15 601.00 L828.84 601.00 L829.54 601.00 L830.23 601.00 L830.92 601.00 L831.61 601.00 L832.30 601.00 L832.99 601.00 L833.68 601.00 L834.38 601.00 L835.07 601.00 L835.76 601.00 L836.45 601.00 L837.14 601.00 L837.83 601.00 L838.52 601.00 L839.22 601.00 L839.91 601.00 L840.60 601.00 L841.29 601.00 L841.98 601.00 L842.67 601.00 L843.36 601.00 L844.06 601.00 L844.75 601.00 L845.44 601.00 L846.13 601.00 L846.82 601.00 L847.51 601.00 L848.20 601.00 L848.90 601.00 L849.59 601.00 L850.28 601.00 L850.97 601.00 L851.66 601.00 L852.35 601.00 L853.05 601.00 L853.74 601.00 L854.43 601.00 L855.12 601.00 L855.81 601.00 L856.50 601.00 L857.19 601.00 L857.89 601.00 L858.58 601.00 L859.27 601.00 L859.96 601.00 L860.65 601.00 L861.34 601.00 L862.03 601.00 L862.73 601.00 L863.42 601.00 L864.11 601.00 L864.80 601.00" fill="none" stroke="#1f77b4" stroke-width="2.08" stroke-linejoin="round" stroke-linecap="square"/>
<rect x="125.5" y="542.5" width="775.0" height="117.0" fill="none" stroke="#000" stroke-width="1.11"/>
<path d="M201.5 659.5 v4.86" stroke="#000" stroke-width="1.11"/>
<path d="M284.5 659.5 v4.86" stroke="#000" stroke-width="1.11"/>
<path d="M367.5 659.5 v4.86" stroke="#000" stroke-width="1.11"/>
<path d="M450.5 659.5 v4.86" stroke="#000" stroke-width="1.11"/>
<path d="M533.5 659.5 v4.86" stroke="#000" stroke-width="1.11"/>
<path d="M616.5 659.5 v4.86" stroke="#000" stroke-width="1.11"/>
<path d="M699.5 659.5 v4.86" stroke="#000" stroke-width="1.11"/>
<path d="M782.5 659.5 v4.86" stroke="#000" stroke-width="1.11"/>
<path d="M865.5 659.5 v4.86" stroke="#000" stroke-width="1.11"/>
<path d="M125.5 547.5 h-5.1" stroke="#000" stroke-width="1.11"/>
<text x="114.65" y="552.50" text-anchor="end" font-size="13.9" textLength="29.6" lengthAdjust="spacingAndGlyphs">0.05</text>
<path d="M125.5 601.5 h-5.1" stroke="#000" stroke-width="1.11"/>
<text x="114.65" y="605.79" text-anchor="end" font-size="13.9" textLength="29.6" lengthAdjust="spacingAndGlyphs">0.00</text>
<path d="M125.5 654.5 h-5.1" stroke="#000" stroke-width="1.11"/>
<text x="114.65" y="659.08" text-anchor="end" font-size="13.9" textLength="41.6" lengthAdjust="spacingAndGlyphs">−0.05</text>
<text transform="translate(63.30 602.79) rotate(-90)" text-anchor="middle" font-size="13.9" textLength="83.8" lengthAdjust="spacingAndGlyphs">nummasked</text>
<text transform="translate(198.99 678.81) rotate(-30)" text-anchor="end" font-size="13.9" textLength="35.3" lengthAdjust="spacingAndGlyphs">2020</text><text transform="translate(281.95 678.81) rotate(-30)" text-anchor="end" font-size="13.9" textLength="35.3" lengthAdjust="spacingAndGlyphs">2030</text><text transform="translate(364.92 678.81) rotate(-30)" text-anchor="end" font-size="13.9" textLength="35.3" lengthAdjust="spacingAndGlyphs">2040</text><text transform="translate(447.89 678.81) rotate(-30)" text-anchor="end" font-size="13.9" textLength="35.3" lengthAdjust="spacingAndGlyphs">2050</text><text transform="translate(530.86 678.81) rotate(-30)" text-anchor="end" font-size="13.9" textLength="35.3" lengthAdjust="spacingAndGlyphs">2060</text><text transform="translate(613.83 678.81) rotate(-30)" text-anchor="end" font-size="13.9" textLength="35.3" lengthAdjust="spacingAndGlyphs">2070</text><text transform="translate(696.79 678.81) rotate(-30)" text-anchor="end" font-size="13.9" textLength="35.3" lengthAdjust="spacingAndGlyphs">2080</text><text transform="translate(779.76 678.81) rotate(-30)" text-anchor="end" font-size="13.9" textLength="35.3" lengthAdjust="spacingAndGlyphs">2090</text><text transform="translate(862.73 678.81) rotate(-30)" text-anchor="end" font-size="13.9" textLength="35.3" lengthAdjust="spacingAndGlyphs">2100</text>
<rect x="125.00" y="682.76" width="775.00" height="117.24" fill="#fff"/>
<path d="M160.20 741.00 L160.89 741.00 L161.58 741.00 L162.27 741.00 L162.97 741.00 L163.66 741.00 L164.35 741.00 L165.04 741.00 L165.73 741.00 L166.42 741.00 L167.11 741.00 L167.81 741.00 L168.50 741.00 L169.19 741.00 L169.88 741.00 L170.57 741.00 L171.26 741.00 L171.95 741.00 L172.65 741.00 L173.34 741.00 L174.03 741.00 L174.72 741.00 L175.41 741.00 L176.10 741.00 L176.80 741.00 L177.49 741.00 L178.18 741.00 L178.87 741.00 L179.56 741.00 L180.25 741.00 L180.94 741.00 L181.64 741.00 L182.33 741.00 L183.02 741.00 L183.71 741.00 L184.40 741.00 L185.09 741.00 L185.78 741.00 L186.48 741.00 L187.17 741.00 L187.86 741.00 L188.55 741.00 L189.24 741.00 L189.93 741.00 L190.62 741.00 L191.32 741.00 L192.01 741.00 L192.70 741.00 L193.39 741.00 L194.08 741.00 L194.77 741.00 L195.46 741.00 L196.16 741.00 L196.85 741.00 L197.54 741.00 L198.23 741.00 L198.92 741.00 L199.61 741.00 L200.30 741.00 L201.00 741.00 L201.69 741.00 L202.38 741.00 L203.07 741.00 L203.76 741.00 L204.45 741.00 L205.15 741.00 L205.84 741.00 L206.53 741.00 L207.22 741.00 L207.91 741.00 L208.60 741.00 L209.29 741.00 L209.99 741.00 L210.68 741.00 L211.37 741.00 L212.06 741.00 L212.75 741.00 L213.44 741.00 L214.13 741.00 L214.83 741.00 L215.52 741.00 L216.21 741.00 L216.90 741.00 L217.59 741.00 L218.28 741.00 L218.97 741.00 L219.67 741.00 L220.36 741.00 L221.05 741.00 L221.74 741.00 L222.43 741.00 L223.12 741.00 L223.81 741.00 L224.51 741.00 L225.20 741.00 L225.89 741.00 L226.58 741.00 L227.27 741.00 L227.96 741.00 L228.65 741.00 L229.35 741.00 L230.04 741.00 L230.73 741.00 L231.42 741.00 L232.11 741.00 L232.80 741.00 L233.49 741.00 L234.19 741.00 L234.88 741.00 L235.57 741.00 L236.26 741.00 L236.95 741.00 L237.64 741.00 L238.34 741.00 L239.03 741.00 L239.72 741.00 L240.41 741.00 L241.10 741.00 L241.79 741.00 L242.48 741.00 L243.18 741.00 L243.87 741.00 L244.56 741.00 L245.25 741.00 L245.94 741.00 L246.63 741.00 L247.32 741.00 L248.02 741.00 L248.71 741.00 L249.40 741.00 L250.09 741.00 L250.78 741.00 L251.47 741.00 L252.16 741.00 L252.86 741.00 L253.55 741.00 L254.24 741.00 L254.93 741.00 L255.62 741.00 L256.31 741.00 L257.00 741.00 L257.70 741.00 L258.39 741.00 L259.08 741.00 L259.77 741.00 L260.46 741.00 L261.15 741.00 L261.84 741.00 L262.54 741.00 L263.23 741.00 L263.92 741.00 L264.61 741.00 L265.30 741.00 L265.99 741.00 L266.69 741.00 L267.38 741.00 L268.07 741.00 L268.76 741.00 L269.45 741.00 L270.14 741.00 L270.83 741.00 L271.53 741.00 L272.22 741.00 L272.91 741.00 L273.60 741.00 L274.29 741.00 L274.98 741.00 L275.67 741.00 L276.37 741.00 L277.06 741.00 L277.75 741.00 L278.44 741.00 L279.13 741.00 L279.82 741.00 L280.51 741.00 L281.21 741.00 L281.90 741.00 L282.59 741.00 L283.28 741.00 L283.97 741.00 L284.66 741.00 L285.35 741.00 L286.05 741.00 L286.74 741.00 L287.43 741.00 L288.12 741.00 L288.81 741.00 L289.50 741.00 L290.19 741.00 L290.89 741.00 L291.58 741.00 L292.27 741.00 L292.96 741.00 L293.65 741.00 L294.34 741.00 L295.04 741.00 L295.73 741.00 L296.42 741.00 L297.11 741.00 L297.80 741.00 L298.49 741.00 L299.18 741.00 L299.88 741.00 L300.57 741.00 L301.26 741.00 L301.95 741.00 L302.64 741.00 L303.33 741.00 L304.02 741.00 L304.72 741.00 L305.41 741.00 L306.10 741.00 L306.79 741.00 L307.48 741.00 L308.17 741.00 L308.86 741.00 L309.56 741.00 L310.25 741.00 L310.94 741.00 L311.63 741.00 L312.32 741.00 L313.01 741.00 L313.70 741.00 L314.40 741.00 L315.09 741.00 L315.78 741.00 L316.47 741.00 L317.16 741.00 L317.85 741.00 L318.54 741.00 L319.24 741.00 L319.93 741.00 L320.62 741.00 L321.31 741.00 L322.00 741.00 L322.69 741.00 L323.39 741.00 L324.08 741.00 L324.77 741.00 L325.46 741.00 L326.15 741.00 L326.84 741.00 L327.53 741.00 L328.23 741.00 L328.92 741.00 L329.61 741.00 L330.30 741.00 L330.99 741.00 L331.68 741.00 L332.37 741.00 L333.07 741.00 L333.76 741.00 L334.45 741.00 L335.14 741.00 L335.83 741.00 L336.52 741.00 L337.21 741.00 L337.91 741.00 L338.60 741.00 L339.29 741.00 L339.98 741.00 L340.67 741.00 L341.36 741.00 L342.05 741.00 L342.75 741.00 L343.44 741.00 L344.13 741.00 L344.82 741.00 L345.51 741.00 L346.20 741.00 L346.89 741.00 L347.59 741.00 L348.28 741.00 L348.97 741.00 L349.66 741.00 L350.35 741.00 L351.04 741.00 L351.74 741.00 L352.43 741.00 L353.12 741.00 L353.81 741.00 L354.50 741.00 L355.19 741.00 L355.88 741.00 L356.58 741.00 L357.27 741.00 L357.96 741.00 L358.65 741.00 L359.34 741.00 L360.03 741.00 L360.72 741.00 L361.42 741.00 L362.11 741.00 L362.80 741.00 L363.49 741.00 L364.18 741.00 L364.87 741.00 L365.56 741.00 L366.26 741.00 L366.95 741.00 L367.64 741.00 L368.33 741.00 L369.02 741.00 L369.71 741.00 L370.40 741.00 L371.10 741.00 L371.79 741.00 L372.48 741.00 L373.17 741.00 L373.86 741.00 L374.55 741.00 L375.24 741.00 L375.94 741.00 L376.63 741.00 L377.32 741.00 L378.01 741.00 L378.70 741.00 L379.39 741.00 L380.08 741.00 L380.78 741.00 L381.47 741.00 L382.16 741.00 L382.85 741.00 L383.54 741.00 L384.23 741.00 L384.93 741.00 L385.62 741.00 L386.31 741.00 L387.00 741.00 L387.69 741.00 L388.38 741.00 L389.07 741.00 L389.77 741.00 L390.46 741.00 L391.15 741.00 L391.84 741.00 L392.53 741.00 L393.22 741.00 L393.91 741.00 L394.61 741.00 L395.30 741.00 L395.99 741.00 L396.68 741.00 L397.37 741.00 L398.06 741.00 L398.75 741.00 L399.45 741.00 L400.14 741.00 L400.83 741.00 L401.52 741.00 L402.21 741.00 L402.90 741.00 L403.59 741.00 L404.29 741.00 L404.98 741.00 L405.67 741.00 L406.36 741.00 L407.05 741.00 L407.74 741.00 L408.43 741.00 L409.13 741.00 L409.82 741.00 L410.51 741.00 L411.20 741.00 L411.89 741.00 L412.58 741.00 L413.28 741.00 L413.97 741.00 L414.66 741.00 L415.35 741.00 L416.04 741.00 L416.73 741.00 L417.42 741.00 L418.12 741.00 L418.81 741.00 L419.50 741.00 L420.19 741.00 L420.88 741.00 L421.57 741.00 L422.26 741.00 L422.96 741.00 L423.65 741.00 L424.34 741.00 L425.03 741.00 L425.72 741.00 L426.41 741.00 L427.10 741.00 L427.80 741.00 L428.49 741.00 L429.18 741.00 L429.87 741.00 L430.56 741.00 L431.25 741.00 L431.94 741.00 L432.64 741.00 L433.33 741.00 L434.02 741.00 L434.71 741.00 L435.40 741.00 L436.09 741.00 L436.78 741.00 L437.48 741.00 L438.17 741.00 L438.86 741.00 L439.55 741.00 L440.24 741.00 L440.93 741.00 L441.63 741.00 L442.32 741.00 L443.01 741.00 L443.70 741.00 L444.39 741.00 L445.08 741.00 L445.77 741.00 L446.47 741.00 L447.16 741.00 L447.85 741.00 L448.54 741.00 L449.23 741.00 L449.92 741.00 L450.61 741.00 L451.31 741.00 L452.00 741.00 L452.69 741.00 L453.38 741.00 L454.07 741.00 L454.76 741.00 L455.45 741.00 L456.15 741.00 L456.84 741.00 L457.53 741.00 L458.22 741.00 L458.91 741.00 L459.60 741.00 L460.29 741.00 L460.99 741.00 L461.68 741.00 L462.37 741.00 L463.06 741.00 L463.75 741.00 L464.44 741.00 L465.13 741.00 L465.83 741.00 L466.52 741.00 L467.21 741.00 L467.90 741.00 L468.59 741.00 L469.28 741.00 L469.98 741.00 L470.67 741.00 L471.36 741.00 L472.05 741.00 L472.74 741.00 L473.43 741.00 L474.12 741.00 L474.82 741.00 L475.51 741.00 L476.20 741.00 L476.89 741.00 L477.58 741.00 L478.27 741.00 L478.96 741.00 L479.66 741.00 L480.35 741.00 L481.04 741.00 L481.73 741.00 L482.42 741.00 L483.11 741.00 L483.80 741.00 L484.50 741.00 L485.19 741.00 L485.88 741.00 L486.57 741.00 L487.26 741.00 L487.95 741.00 L488.64 741.00 L489.34 741.00 L490.03 741.00 L490.72 741.00 L491.41 741.00 L492.10 741.00 L492.79 741.00 L493.48 741.00 L494.18 741.00 L494.87 741.00 L495.56 741.00 L496.25 741.00 L496.94 741.00 L497.63 741.00 L498.33 741.00 L499.02 741.00 L499.71 741.00 L500.40 741.00 L501.09 741.00 L501.78 741.00 L502.47 741.00 L503.17 741.00 L503.86 741.00 L504.55 741.00 L505.24 741.00 L505.93 741.00 L506.62 741.00 L507.31 741.00 L508.01 741.00 L508.70 741.00 L509.39 741.00 L510.08 741.00 L510.77 741.00 L511.46 741.00 L512.15 741.00 L512.85 741.00 L513.54 741.00 L514.23 741.00 L514.92 741.00 L515.61 741.00 L516.30 741.00 L516.99 741.00 L517.69 741.00 L518.38 741.00 L519.07 741.00 L519.76 741.00 L520.45 741.00 L521.14 741.00 L521.83 741.00 L522.53 741.00 L523.22 741.00 L523.91 741.00 L524.60 741.00 L525.29 741.00 L525.98 741.00 L526.67 741.00 L527.37 741.00 L528.06 741.00 L528.75 741.00 L529.44 741.00 L530.13 741.00 L530.82 741.00 L531.52 741.00 L532.21 741.00 L532.90 741.00 L533.59 741.00 L534.28 741.00 L534.97 741.00 L535.66 741.00 L536.36 741.00 L537.05 741.00 L537.74 741.00 L538.43 741.00 L539.12 741.00 L539.81 741.00 L540.50 741.00 L541.20 741.00 L541.89 741.00 L542.58 741.00 L543.27 741.00 L543.96 741.00 L544.65 741.00 L545.34 741.00 L546.04 741.00 L546.73 741.00 L547.42 741.00 L548.11 741.00 L548.80 741.00 L549.49 741.00 L550.18 741.00 L550.88 741.00 L551.57 741.00 L552.26 741.00 L552.95 741.00 L553.64 741.00 L554.33 741.00 L555.02 741.00 L555.72 741.00 L556.41 741.00 L557.10 741.00 L557.79 741.00 L558.48 741.00 L559.17 741.00 L559.87 741.00 L560.56 741.00 L561.25 741.00 L561.94 741.00 L562.63 741.00 L563.32 741.00 L564.01 741.00 L564.71 741.00 L565.40 741.00 L566.09 741.00 L566.78 741.00 L567.47 741.00 L568.16 741.00 L568.85 741.00 L569.55 741.00 L570.24 741.00 L570.93 741.00 L571.62 741.00 L572.31 741.00 L573.00 741.00 L573.69 741.00 L574.39 741.00 L575.08 741.00 L575.77 741.00 L576.46 741.00 L577.15 741.00 L577.84 741.00 L578.53 741.00 L579.23 741.00 L579.92 741.00 L580.61 741.00 L581.30 741.00 L581.99 741.00 L582.68 741.00 L583.37 741.00 L584.07 741.00 L584.76 741.00 L585.45 741.00 L586.14 741.00 L586.83 741.00 L587.52 741.00 L588.22 741.00 L588.91 741.00 L589.60 741.00 L590.29 741.00 L590.98 741.00 L591.67 741.00 L592.36 741.00 L593.06 741.00 L593.75 741.00 L594.44 741.00 L595.13 741.00 L595.82 741.00 L596.51 741.00 L597.20 741.00 L597.90 741.00 L598.59 741.00 L599.28 741.00 L599.97 741.00 L600.66 741.00 L601.35 741.00 L602.04 741.00 L602.74 741.00 L603.43 741.00 L604.12 741.00 L604.81 741.00 L605.50 741.00 L606.19 741.00 L606.88 741.00 L607.58 741.00 L608.27 741.00 L608.96 741.00 L609.65 741.00 L610.34 741.00 L611.03 741.00 L611.72 741.00 L612.42 741.00 L613.11 741.00 L613.80 741.00 L614.49 741.00 L615.18 741.00 L615.87 741.00 L616.57 741.00 L617.26 741.00 L617.95 741.00 L618.64 741.00 L619.33 741.00 L620.02 741.00 L620.71 741.00 L621.41 741.00 L622.10 741.00 L622.79 741.00 L623.48 741.00 L624.17 741.00 L624.86 741.00 L625.55 741.00 L626.25 741.00 L626.94 741.00 L627.63 741.00 L628.32 741.00 L629.01 741.00 L629.70 741.00 L630.39 741.00 L631.09 741.00 L631.78 741.00 L632.47 741.00 L633.16 741.00 L633.85 741.00 L634.54 741.00 L635.23 741.00 L635.93 741.00 L636.62 741.00 L637.31 741.00 L638.00 741.00 L638.69 741.00 L639.38 741.00 L640.07 741.00 L640.77 741.00 L641.46 741.00 L642.15 741.00 L642.84 741.00 L643.53 741.00 L644.22 741.00 L644.92 741.00 L645.61 741.00 L646.30 741.00 L646.99 741.00 L647.68 741.00 L648.37 741.00 L649.06 741.00 L649.76 741.00 L650.45 741.00 L651.14 741.00 L651.83 741.00 L652.52 741.00 L653.21 741.00 L653.90 741.00 L654.60 741.00 L655.29 741.00 L655.98 741.00 L656.67 741.00 L657.36 741.00 L658.05 741.00 L658.74 741.00 L659.44 741.00 L660.13 741.00 L660.82 741.00 L661.51 741.00 L662.20 741.00 L662.89 741.00 L663.58 741.00 L664.28 741.00 L664.97 741.00 L665.66 741.00 L666.35 741.00 L667.04 741.00 L667.73 741.00 L668.42 741.00 L669.12 741.00 L669.81 741.00 L670.50 741.00 L671.19 741.00 L671.88 741.00 L672.57 741.00 L673.26 741.00 L673.96 741.00 L674.65 741.00 L675.34 741.00 L676.03 741.00 L676.72 741.00 L677.41 741.00 L678.11 741.00 L678.80 741.00 L679.49 741.00 L680.18 741.00 L680.87 741.00 L681.56 741.00 L682.25 741.00 L682.95 741.00 L683.64 741.00 L684.33 741.00 L685.02 741.00 L685.71 741.00 L686.40 741.00 L687.09 741.00 L687.79 741.00 L688.48 741.00 L689.17 741.00 L689.86 741.00 L690.55 741.00 L691.24 741.00 L691.93 741.00 L692.63 741.00 L693.32 741.00 L694.01 741.00 L694.70 741.00 L695.39 741.00 L696.08 741.00 L696.77 741.00 L697.47 741.00 L698.16 741.00 L698.85 741.00 L699.54 741.00 L700.23 741.00 L700.92 741.00 L701.61 741.00 L702.31 741.00 L703.00 741.00 L703.69 741.00 L704.38 741.00 L705.07 741.00 L705.76 741.00 L706.46 741.00 L707.15 741.00 L707.84 741.00 L708.53 741.00 L709.22 741.00 L709.91 741.00 L710.60 741.00 L711.30 741.00 L711.99 741.00 L712.68 741.00 L713.37 741.00 L714.06 741.00 L714.75 741.00 L715.44 741.00 L716.14 741.00 L716.83 741.00 L717.52 741.00 L718.21 741.00 L718.90 741.00 L719.59 741.00 L720.28 741.00 L720.98 741.00 L721.67 741.00 L722.36 741.00 L723.05 741.00 L723.74 741.00 L724.43 741.00 L725.12 741.00 L725.82 741.00 L726.51 741.00 L727.20 741.00 L727.89 741.00 L728.58 741.00 L729.27 741.00 L729.96 741.00 L730.66 741.00 L731.35 741.00 L732.04 741.00 L732.73 741.00 L733.42 741.00 L734.11 741.00 L734.81 741.00 L735.50 741.00 L736.19 741.00 L736.88 741.00 L737.57 741.00 L738.26 741.00 L738.95 741.00 L739.65 741.00 L740.34 741.00 L741.03 741.00 L741.72 741.00 L742.41 741.00 L743.10 741.00 L743.79 741.00 L744.49 741.00 L745.18 741.00 L745.87 741.00 L746.56 741.00 L747.25 741.00 L747.94 741.00 L748.63 741.00 L749.33 741.00 L750.02 741.00 L750.71 741.00 L751.40 741.00 L752.09 741.00 L752.78 741.00 L753.47 741.00 L754.17 741.00 L754.86 741.00 L755.55 741.00 L756.24 741.00 L756.93 741.00 L757.62 741.00 L758.31 741.00 L759.01 741.00 L759.70 741.00 L760.39 741.00 L761.08 741.00 L761.77 741.00 L762.46 741.00 L763.16 741.00 L763.85 741.00 L764.54 741.00 L765.23 741.00 L765.92 741.00 L766.61 741.00 L767.30 741.00 L768.00 741.00 L768.69 741.00 L769.38 741.00 L770.07 741.00 L770.76 741.00 L771.45 741.00 L772.14 741.00 L772.84 741.00 L773.53 741.00 L774.22 741.00 L774.91 741.00 L775.60 741.00 L776.29 741.00 L776.98 741.00 L777.68 741.00 L778.37 741.00 L779.06 741.00 L779.75 741.00 L780.44 741.00 L781.13 741.00 L781.82 741.00 L782.52 741.00 L783.21 741.00 L783.90 741.00 L784.59 741.00 L785.28 741.00 L785.97 741.00 L786.66 741.00 L787.36 741.00 L788.05 741.00 L788.74 741.00 L789.43 741.00 L790.12 741.00 L790.81 741.00 L791.51 741.00 L792.20 741.00 L792.89 741.00 L793.58 741.00 L794.27 741.00 L794.96 741.00 L795.65 741.00 L796.35 741.00 L797.04 741.00 L797.73 741.00 L798.42 741.00 L799.11 741.00 L799.80 741.00 L800.49 741.00 L801.19 741.00 L801.88 741.00 L802.57 741.00 L803.26 741.00 L803.95 741.00 L804.64 741.00 L805.33 741.00 L806.03 741.00 L806.72 741.00 L807.41 741.00 L808.10 741.00 L808.79 741.00 L809.48 741.00 L810.17 741.00 L810.87 741.00 L811.56 741.00 L812.25 741.00 L812.94 741.00 L813.63 741.00 L814.32 741.00 L815.01 741.00 L815.71 741.00 L816.40 741.00 L817.09 741.00 L817.78 741.00 L818.47 741.00 L819.16 741.00 L819.85 741.00 L820.55 741.00 L821.24 741.00 L821.93 741.00 L822.62 741.00 L823.31 741.00 L824.00 741.00 L824.70 741.00 L825.39 741.00 L826.08 741.00 L826.77 741.00 L827.46 741.00 L828.15 741.00 L828.84 741.00 L829.54 741.00 L830.23 741.00 L830.92 741.00 L831.61 741.00 L832.30 741.00 L832.99 741.00 L833.68 741.00 L834.38 741.00 L835.07 741.00 L835.76 741.00 L836.45 741.00 L837.14 741.00 L837.83 741.00 L838.52 741.00 L839.22 741.00 L839.91 741.00 L840.60 741.00 L841.29 741.00 L841.98 741.00 L842.67 741.00 L843.36 741.00 L844.06 741.00 L844.75 741.00 L845.44 741.00 L846.13 741.00 L846.82 741.00 L847.51 741.00 L848.20 741.00 L848.90 741.00 L849.59 741.00 L850.28 741.00 L850.97 741.00 L851.66 741.00 L852.35 741.00 L853.05 741.00 L853.74 741.00 L854.43 741.00 L855.12 741.00 L855.81 741.00 L856.50 741.00 L857.19 741.00 L857.89 741.00 L858.58 741.00 L859.27 741.00 L859.96 741.00 L860.65 741.00 L861.34 741.00 L862.03 741.00 L862.73 741.00 L863.42 741.00 L864.11 741.00 L864.80 741.00" fill="none" stroke="#1f77b4" stroke-width="2.08" stroke-linejoin="round" stroke-linecap="square"/>
<rect x="125.5" y="683.5" width="775.0" height="117.0" fill="none" stroke="#000" stroke-width="1.11"/>
<path d="M201.5 800.5 v4.86" stroke="#000" stroke-width="1.11"/>
<path d="M284.5 800.5 v4.86" stroke="#000" stroke-width="1.11"/>
<path d="M367.5 800.5 v4.86" stroke="#000" stroke-width="1.11"/>
<path d="M450.5 800.5 v4.86" stroke="#000" stroke-width="1.11"/>
<path d="M533.5 800.5 v4.86" stroke="#000" stroke-width="1.11"/>
<path d="M616.5 800.5 v4.86" stroke="#000" stroke-width="1.11"/>
<path d="M699.5 800.5 v4.86" stroke="#000" stroke-width="1.11"/>
<path d="M782.5 800.5 v4.86" stroke="#000" stroke-width="1.11"/>
<path d="M865.5 800.5 v4.86" stroke="#000" stroke-width="1.11"/>
<path d="M125.5 688.5 h-5.1" stroke="#000" stroke-width="1.11"/>
<text x="114.65" y="693.19" text-anchor="end" font-size="13.9" textLength="29.6" lengthAdjust="spacingAndGlyphs">0.05</text>
<path d="M125.5 741.5 h-5.1" stroke="#000" stroke-width="1.11"/>
<text x="114.65" y="746.48" text-anchor="end" font-size="13.9" textLength="29.6" lengthAdjust="spacingAndGlyphs">0.00</text>
<path d="M125.5 795.5 h-5.1" stroke="#000" stroke-width="1.11"/>
<text x="114.65" y="799.77" text-anchor="end" font-size="13.9" textLength="41.6" lengthAdjust="spacingAndGlyphs">−0.05</text>
<text transform="translate(63.60 744.28) rotate(-90)" text-anchor="middle" font-size="13.9" textLength="55.9" lengthAdjust="spacingAndGlyphs">numnan</text>
<text transform="translate(198.99 819.50) rotate(-30)" text-anchor="end" font-size="13.9" textLength="35.3" lengthAdjust="spacingAndGlyphs">2020</text><text transform="translate(281.95 819.50) rotate(-30)" text-anchor="end" font-size="13.9" textLength="35.3" lengthAdjust="spacingAndGlyphs">2030</text><text transform="translate(364.92 819.50) rotate(-30)" text-anchor="end" font-size="13.9" textLength="35.3" lengthAdjust="spacingAndGlyphs">2040</text><text transform="translate(447.89 819.50) rotate(-30)" text-anchor="end" font-size="13.9" textLength="35.3" lengthAdjust="spacingAndGlyphs">2050</text><text transform="translate(530.86 819.50) rotate(-30)" text-anchor="end" font-size="13.9" textLength="35.3" lengthAdjust="spacingAndGlyphs">2060</text><text transform="translate(613.83 819.50) rotate(-30)" text-anchor="end" font-size="13.9" textLength="35.3" lengthAdjust="spacingAndGlyphs">2070</text><text transform="translate(696.79 819.50) rotate(-30)" text-anchor="end" font-size="13.9" textLength="35.3" lengthAdjust="spacingAndGlyphs">2080</text><text transform="translate(779.76 819.50) rotate(-30)" text-anchor="end" font-size="13.9" textLength="35.3" lengthAdjust="spacingAndGlyphs">2090</text><text transform="translate(862.73 819.50) rotate(-30)" text-anchor="end" font-size="13.9" textLength="35.3" lengthAdjust="spacingAndGlyphs">2100</text>
<text y="112" font-size="16.7"><tspan x="306.70" textLength="43.70" lengthAdjust="spacingAndGlyphs">huss,</tspan> <tspan x="356.00" textLength="54.70" lengthAdjust="spacingAndGlyphs">lev=0,</tspan> <tspan x="415.90" textLength="137.30" lengthAdjust="spacingAndGlyphs">20150115T0000</tspan> <tspan x="559.60" textLength="15.60" lengthAdjust="spacingAndGlyphs">to</tspan> <tspan x="581.40" textLength="137.00" lengthAdjust="spacingAndGlyphs">20991215T0000</tspan></text>
<text x="512.2" y="855.7" text-anchor="middle" font-size="13.9" textLength="63.7" lengthAdjust="spacingAndGlyphs">validtime</text>
</svg>
</body></html>
